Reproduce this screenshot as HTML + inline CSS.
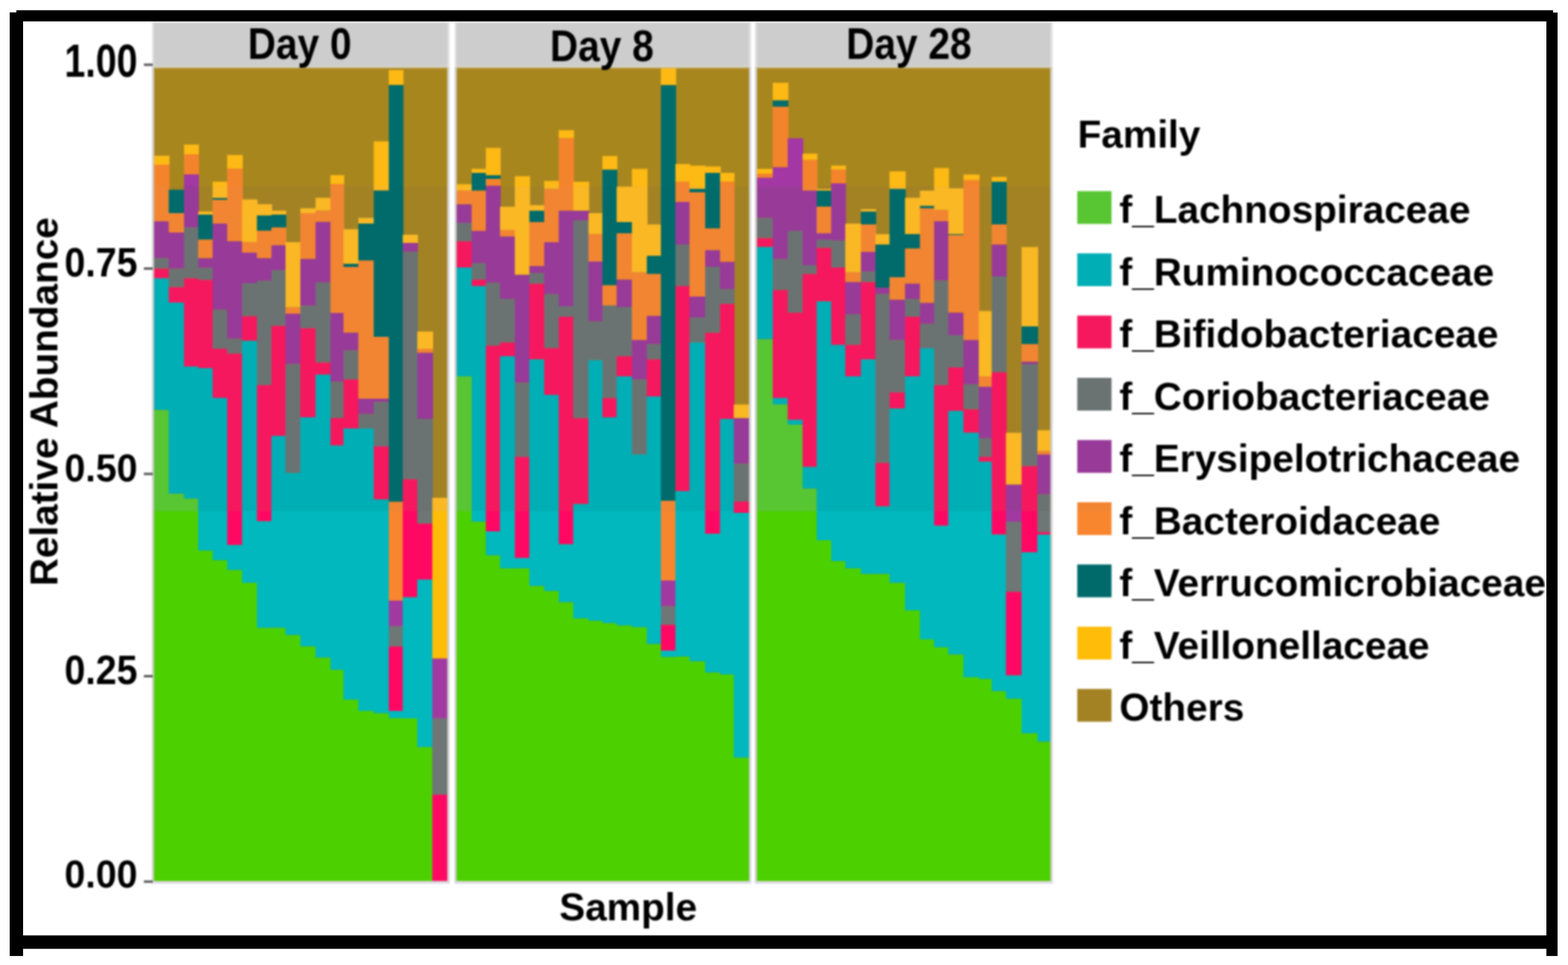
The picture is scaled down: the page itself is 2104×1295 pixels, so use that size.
<!DOCTYPE html>
<html><head><meta charset="utf-8"><title>Relative Abundance by Family</title>
<style>html,body{margin:0;padding:0;background:#fff;width:2104px;height:1295px;overflow:hidden}svg{display:block}</style>
</head><body>
<svg width="2104" height="1295" viewBox="0 0 2104 1295"><defs><clipPath id="b0"><rect x="0" y="0" width="2104" height="250"/></clipPath><clipPath id="b1"><rect x="0" y="250" width="2104" height="436"/></clipPath><clipPath id="b2"><rect x="0" y="686" width="2104" height="609"/></clipPath></defs><filter id="soft" x="0" y="0" width="2104" height="1295" filterUnits="userSpaceOnUse" color-interpolation-filters="sRGB"><feGaussianBlur stdDeviation="1.0"/></filter><rect width="2104" height="1295" fill="#fff"/><g filter="url(#soft)"><rect width="2104" height="1295" fill="#fff"/><rect x="204.0" y="29" width="399.3" height="60" fill="#e2e2e2"/><rect x="206.5" y="31" width="393.9" height="57.6" fill="#cdcdcd"/><rect x="610.0" y="29" width="397.9" height="60" fill="#e2e2e2"/><rect x="612.5" y="31" width="392.5" height="57.6" fill="#cdcdcd"/><rect x="1013.0" y="29" width="399.5" height="60" fill="#e2e2e2"/><rect x="1015.5" y="31" width="394.1" height="57.6" fill="#cdcdcd"/><g clip-path="url(#b0)"><rect x="206.5" y="89.5" width="393.9" height="1093.0" fill="#a8861e"/><rect x="206.50" y="209.00" width="20.90" height="12.00" fill="#fdb914"/><rect x="206.50" y="221.00" width="20.90" height="76.00" fill="#f4842c"/><rect x="206.50" y="297.00" width="20.90" height="49.50" fill="#a337a3"/><rect x="206.50" y="346.50" width="20.90" height="14.00" fill="#6b7372"/><rect x="206.50" y="360.50" width="20.90" height="13.00" fill="#f8155f"/><rect x="206.50" y="373.50" width="20.90" height="176.80" fill="#00aeb6"/><rect x="206.50" y="550.30" width="20.90" height="632.20" fill="#58c532"/><rect x="226.40" y="254.60" width="21.50" height="31.40" fill="#006d6c"/><rect x="226.40" y="286.00" width="21.50" height="26.00" fill="#f4842c"/><rect x="226.40" y="312.00" width="21.50" height="48.50" fill="#a337a3"/><rect x="226.40" y="360.50" width="21.50" height="24.90" fill="#6b7372"/><rect x="226.40" y="385.40" width="21.50" height="20.60" fill="#f8155f"/><rect x="226.40" y="406.00" width="21.50" height="256.70" fill="#00aeb6"/><rect x="226.40" y="662.70" width="21.50" height="519.80" fill="#58c532"/><rect x="246.90" y="194.00" width="20.00" height="13.00" fill="#fdb914"/><rect x="246.90" y="207.00" width="20.00" height="27.00" fill="#f4842c"/><rect x="246.90" y="234.00" width="20.00" height="71.40" fill="#a337a3"/><rect x="246.90" y="305.40" width="20.00" height="68.10" fill="#6b7372"/><rect x="246.90" y="373.50" width="20.00" height="118.40" fill="#f8155f"/><rect x="246.90" y="491.90" width="20.00" height="177.30" fill="#00aeb6"/><rect x="246.90" y="669.20" width="20.00" height="513.30" fill="#58c532"/><rect x="265.90" y="283.80" width="20.40" height="4.20" fill="#fdb914"/><rect x="265.90" y="288.00" width="20.40" height="33.60" fill="#006d6c"/><rect x="265.90" y="321.60" width="20.40" height="24.90" fill="#f4842c"/><rect x="265.90" y="346.50" width="20.40" height="13.00" fill="#a337a3"/><rect x="265.90" y="359.50" width="20.40" height="16.20" fill="#6b7372"/><rect x="265.90" y="375.70" width="20.40" height="118.30" fill="#f8155f"/><rect x="265.90" y="494.00" width="20.40" height="244.90" fill="#00aeb6"/><rect x="265.90" y="738.90" width="20.40" height="443.60" fill="#58c532"/><rect x="285.30" y="243.80" width="20.50" height="22.00" fill="#fdb914"/><rect x="285.30" y="265.80" width="20.50" height="2.40" fill="#006d6c"/><rect x="285.30" y="268.20" width="20.50" height="31.80" fill="#f4842c"/><rect x="285.30" y="300.00" width="20.50" height="115.70" fill="#a337a3"/><rect x="285.30" y="415.70" width="20.50" height="52.30" fill="#6b7372"/><rect x="285.30" y="468.00" width="20.50" height="66.00" fill="#f8155f"/><rect x="285.30" y="534.00" width="20.50" height="217.90" fill="#00aeb6"/><rect x="285.30" y="751.90" width="20.50" height="430.60" fill="#58c532"/><rect x="304.80" y="208.00" width="21.00" height="18.50" fill="#fdb914"/><rect x="304.80" y="226.50" width="21.00" height="97.30" fill="#f4842c"/><rect x="304.80" y="323.80" width="21.00" height="130.80" fill="#a337a3"/><rect x="304.80" y="454.60" width="21.00" height="20.00" fill="#6b7372"/><rect x="304.80" y="474.60" width="21.00" height="256.80" fill="#f8155f"/><rect x="304.80" y="731.40" width="21.00" height="33.50" fill="#00aeb6"/><rect x="304.80" y="764.90" width="21.00" height="417.60" fill="#58c532"/><rect x="324.80" y="267.60" width="20.90" height="57.30" fill="#fdb914"/><rect x="324.80" y="324.90" width="20.90" height="14.10" fill="#f4842c"/><rect x="324.80" y="339.00" width="20.90" height="41.00" fill="#a337a3"/><rect x="324.80" y="380.00" width="20.90" height="44.30" fill="#6b7372"/><rect x="324.80" y="424.30" width="20.90" height="33.00" fill="#f8155f"/><rect x="324.80" y="457.30" width="20.90" height="324.90" fill="#00aeb6"/><rect x="324.80" y="782.20" width="20.90" height="400.30" fill="#58c532"/><rect x="344.70" y="274.00" width="20.50" height="15.20" fill="#fdb914"/><rect x="344.70" y="289.20" width="20.50" height="20.50" fill="#006d6c"/><rect x="344.70" y="309.70" width="20.50" height="36.80" fill="#f4842c"/><rect x="344.70" y="346.50" width="20.50" height="30.30" fill="#a337a3"/><rect x="344.70" y="376.80" width="20.50" height="140.00" fill="#6b7372"/><rect x="344.70" y="516.80" width="20.50" height="182.70" fill="#f8155f"/><rect x="344.70" y="699.50" width="20.50" height="143.20" fill="#00aeb6"/><rect x="344.70" y="842.70" width="20.50" height="339.80" fill="#58c532"/><rect x="364.20" y="282.70" width="19.90" height="5.30" fill="#fdb914"/><rect x="364.20" y="288.00" width="19.90" height="17.40" fill="#006d6c"/><rect x="364.20" y="305.40" width="19.90" height="23.80" fill="#f4842c"/><rect x="364.20" y="329.20" width="19.90" height="33.50" fill="#a337a3"/><rect x="364.20" y="362.70" width="19.90" height="74.60" fill="#6b7372"/><rect x="364.20" y="437.30" width="19.90" height="147.60" fill="#f8155f"/><rect x="364.20" y="584.90" width="19.90" height="257.80" fill="#00aeb6"/><rect x="364.20" y="842.70" width="19.90" height="339.80" fill="#58c532"/><rect x="383.10" y="324.90" width="20.90" height="87.50" fill="#fdb914"/><rect x="383.10" y="412.40" width="20.90" height="8.60" fill="#f4842c"/><rect x="383.10" y="421.00" width="20.90" height="67.60" fill="#a337a3"/><rect x="383.10" y="488.60" width="20.90" height="146.00" fill="#6b7372"/><rect x="383.10" y="634.60" width="20.90" height="217.80" fill="#00aeb6"/><rect x="383.10" y="852.40" width="20.90" height="330.10" fill="#58c532"/><rect x="403.00" y="279.50" width="21.40" height="6.50" fill="#fdb914"/><rect x="403.00" y="286.00" width="21.40" height="61.60" fill="#f4842c"/><rect x="403.00" y="347.60" width="21.40" height="62.70" fill="#a337a3"/><rect x="403.00" y="410.30" width="21.40" height="30.20" fill="#6b7372"/><rect x="403.00" y="440.50" width="21.40" height="119.50" fill="#f8155f"/><rect x="403.00" y="560.00" width="21.40" height="307.60" fill="#00aeb6"/><rect x="403.00" y="867.60" width="21.40" height="314.90" fill="#58c532"/><rect x="423.40" y="265.40" width="21.00" height="17.30" fill="#fdb914"/><rect x="423.40" y="282.70" width="21.00" height="15.10" fill="#f4842c"/><rect x="423.40" y="297.80" width="21.00" height="81.10" fill="#a337a3"/><rect x="423.40" y="378.90" width="21.00" height="107.60" fill="#6b7372"/><rect x="423.40" y="486.50" width="21.00" height="16.20" fill="#f8155f"/><rect x="423.40" y="502.70" width="21.00" height="380.00" fill="#00aeb6"/><rect x="423.40" y="882.70" width="21.00" height="299.80" fill="#58c532"/><rect x="443.40" y="235.00" width="18.50" height="12.00" fill="#fdb914"/><rect x="443.40" y="247.00" width="18.50" height="173.00" fill="#f4842c"/><rect x="443.40" y="420.00" width="18.50" height="92.40" fill="#a337a3"/><rect x="443.40" y="512.40" width="18.50" height="48.60" fill="#6b7372"/><rect x="443.40" y="561.00" width="18.50" height="36.80" fill="#f8155f"/><rect x="443.40" y="597.80" width="18.50" height="301.10" fill="#00aeb6"/><rect x="443.40" y="898.90" width="18.50" height="283.60" fill="#58c532"/><rect x="460.90" y="307.60" width="20.90" height="46.40" fill="#fdb914"/><rect x="460.90" y="354.00" width="20.90" height="4.40" fill="#006d6c"/><rect x="460.90" y="358.40" width="20.90" height="88.10" fill="#f4842c"/><rect x="460.90" y="446.50" width="20.90" height="23.80" fill="#a337a3"/><rect x="460.90" y="470.30" width="20.90" height="38.90" fill="#6b7372"/><rect x="460.90" y="509.20" width="20.90" height="65.80" fill="#f8155f"/><rect x="460.90" y="575.00" width="20.90" height="363.90" fill="#00aeb6"/><rect x="460.90" y="938.90" width="20.90" height="243.60" fill="#58c532"/><rect x="480.80" y="292.40" width="21.70" height="7.60" fill="#fdb914"/><rect x="480.80" y="300.00" width="21.70" height="49.70" fill="#006d6c"/><rect x="480.80" y="349.70" width="21.70" height="185.30" fill="#f4842c"/><rect x="480.80" y="535.00" width="21.70" height="20.70" fill="#a337a3"/><rect x="480.80" y="555.70" width="21.70" height="19.30" fill="#6b7372"/><rect x="480.80" y="575.00" width="21.70" height="379.00" fill="#00aeb6"/><rect x="480.80" y="954.00" width="21.70" height="228.50" fill="#58c532"/><rect x="501.50" y="189.70" width="21.20" height="66.00" fill="#fdb914"/><rect x="501.50" y="255.70" width="21.20" height="196.30" fill="#006d6c"/><rect x="501.50" y="452.00" width="21.20" height="83.00" fill="#f4842c"/><rect x="501.50" y="535.00" width="21.20" height="4.50" fill="#a337a3"/><rect x="501.50" y="539.50" width="21.20" height="59.50" fill="#6b7372"/><rect x="501.50" y="599.00" width="21.20" height="71.30" fill="#f8155f"/><rect x="501.50" y="670.30" width="21.20" height="287.00" fill="#00aeb6"/><rect x="501.50" y="957.30" width="21.20" height="225.20" fill="#58c532"/><rect x="521.70" y="94.00" width="19.70" height="20.00" fill="#fdb914"/><rect x="521.70" y="114.00" width="19.70" height="559.50" fill="#006d6c"/><rect x="521.70" y="673.50" width="19.70" height="132.50" fill="#f4842c"/><rect x="521.70" y="806.00" width="19.70" height="34.50" fill="#a337a3"/><rect x="521.70" y="840.50" width="19.70" height="27.10" fill="#6b7372"/><rect x="521.70" y="867.60" width="19.70" height="86.40" fill="#f8155f"/><rect x="521.70" y="954.00" width="19.70" height="9.80" fill="#00aeb6"/><rect x="521.70" y="963.80" width="19.70" height="218.70" fill="#58c532"/><rect x="540.40" y="315.00" width="20.50" height="11.00" fill="#fdb914"/><rect x="540.40" y="326.00" width="20.50" height="11.80" fill="#a337a3"/><rect x="540.40" y="337.80" width="20.50" height="305.40" fill="#6b7372"/><rect x="540.40" y="643.20" width="20.50" height="158.40" fill="#f8155f"/><rect x="540.40" y="801.60" width="20.50" height="162.40" fill="#00aeb6"/><rect x="540.40" y="964.00" width="20.50" height="218.50" fill="#58c532"/><rect x="559.90" y="444.90" width="21.20" height="23.10" fill="#fdb914"/><rect x="559.90" y="468.00" width="21.20" height="5.50" fill="#f4842c"/><rect x="559.90" y="473.50" width="21.20" height="88.50" fill="#a337a3"/><rect x="559.90" y="562.00" width="21.20" height="140.70" fill="#6b7372"/><rect x="559.90" y="702.70" width="21.20" height="75.10" fill="#f8155f"/><rect x="559.90" y="777.80" width="21.20" height="224.90" fill="#00aeb6"/><rect x="559.90" y="1002.70" width="21.20" height="179.80" fill="#58c532"/><rect x="580.10" y="668.00" width="20.30" height="215.80" fill="#fdb914"/><rect x="580.10" y="883.80" width="20.30" height="80.30" fill="#a337a3"/><rect x="580.10" y="964.10" width="20.30" height="102.30" fill="#6b7372"/><rect x="580.10" y="1066.40" width="20.30" height="116.10" fill="#f8155f"/><rect x="612.5" y="89.5" width="392.5" height="1093.0" fill="#a8861e"/><rect x="612.50" y="247.20" width="21.40" height="8.60" fill="#fdb914"/><rect x="612.50" y="255.80" width="21.40" height="18.40" fill="#f4842c"/><rect x="612.50" y="274.20" width="21.40" height="24.80" fill="#a337a3"/><rect x="612.50" y="299.00" width="21.40" height="24.90" fill="#6b7372"/><rect x="612.50" y="323.90" width="21.40" height="35.10" fill="#f8155f"/><rect x="612.50" y="359.00" width="21.40" height="146.00" fill="#00aeb6"/><rect x="612.50" y="505.00" width="21.40" height="677.50" fill="#58c532"/><rect x="632.90" y="226.60" width="20.00" height="5.40" fill="#fdb914"/><rect x="632.90" y="232.00" width="20.00" height="23.80" fill="#006d6c"/><rect x="632.90" y="255.80" width="20.00" height="54.10" fill="#f4842c"/><rect x="632.90" y="309.90" width="20.00" height="43.20" fill="#a337a3"/><rect x="632.90" y="353.10" width="20.00" height="22.20" fill="#6b7372"/><rect x="632.90" y="375.30" width="20.00" height="8.60" fill="#f8155f"/><rect x="632.90" y="383.90" width="20.00" height="316.20" fill="#00aeb6"/><rect x="632.90" y="700.10" width="20.00" height="482.40" fill="#58c532"/><rect x="651.90" y="198.50" width="20.00" height="36.80" fill="#fdb914"/><rect x="651.90" y="235.30" width="20.00" height="4.70" fill="#006d6c"/><rect x="651.90" y="240.00" width="20.00" height="9.30" fill="#f4842c"/><rect x="651.90" y="249.30" width="20.00" height="130.30" fill="#a337a3"/><rect x="651.90" y="379.60" width="20.00" height="84.30" fill="#6b7372"/><rect x="651.90" y="463.90" width="20.00" height="249.20" fill="#f8155f"/><rect x="651.90" y="713.10" width="20.00" height="32.40" fill="#00aeb6"/><rect x="651.90" y="745.50" width="20.00" height="437.00" fill="#58c532"/><rect x="670.90" y="277.40" width="20.90" height="31.40" fill="#fdb914"/><rect x="670.90" y="308.80" width="20.90" height="8.60" fill="#f4842c"/><rect x="670.90" y="317.40" width="20.90" height="83.80" fill="#a337a3"/><rect x="670.90" y="401.20" width="20.90" height="58.40" fill="#6b7372"/><rect x="670.90" y="459.60" width="20.90" height="18.40" fill="#f8155f"/><rect x="670.90" y="478.00" width="20.90" height="284.80" fill="#00aeb6"/><rect x="670.90" y="762.80" width="20.90" height="419.70" fill="#58c532"/><rect x="690.80" y="236.40" width="20.50" height="132.40" fill="#fdb914"/><rect x="690.80" y="368.80" width="20.50" height="144.80" fill="#a337a3"/><rect x="690.80" y="513.60" width="20.50" height="99.50" fill="#6b7372"/><rect x="690.80" y="613.10" width="20.50" height="135.70" fill="#f8155f"/><rect x="690.80" y="748.80" width="20.50" height="14.00" fill="#00aeb6"/><rect x="690.80" y="762.80" width="20.50" height="419.70" fill="#58c532"/><rect x="710.30" y="275.30" width="20.90" height="7.50" fill="#fdb914"/><rect x="710.30" y="282.80" width="20.90" height="15.20" fill="#006d6c"/><rect x="710.30" y="298.00" width="20.90" height="59.00" fill="#f4842c"/><rect x="710.30" y="357.00" width="20.90" height="9.60" fill="#a337a3"/><rect x="710.30" y="366.60" width="20.90" height="14.10" fill="#6b7372"/><rect x="710.30" y="380.70" width="20.90" height="101.60" fill="#f8155f"/><rect x="710.30" y="482.30" width="20.90" height="304.30" fill="#00aeb6"/><rect x="710.30" y="786.60" width="20.90" height="395.90" fill="#58c532"/><rect x="730.20" y="242.80" width="20.50" height="10.80" fill="#fdb914"/><rect x="730.20" y="253.60" width="20.50" height="71.40" fill="#f4842c"/><rect x="730.20" y="325.00" width="20.50" height="69.70" fill="#a337a3"/><rect x="730.20" y="394.70" width="20.50" height="72.50" fill="#6b7372"/><rect x="730.20" y="467.20" width="20.50" height="62.70" fill="#f8155f"/><rect x="730.20" y="529.90" width="20.50" height="263.20" fill="#00aeb6"/><rect x="730.20" y="793.10" width="20.50" height="389.40" fill="#58c532"/><rect x="749.70" y="174.70" width="20.50" height="10.80" fill="#fdb914"/><rect x="749.70" y="185.50" width="20.50" height="97.30" fill="#f4842c"/><rect x="749.70" y="282.80" width="20.50" height="128.20" fill="#a337a3"/><rect x="749.70" y="411.00" width="20.50" height="14.00" fill="#6b7372"/><rect x="749.70" y="425.00" width="20.50" height="305.40" fill="#f8155f"/><rect x="749.70" y="730.40" width="20.50" height="77.80" fill="#00aeb6"/><rect x="749.70" y="808.20" width="20.50" height="374.30" fill="#58c532"/><rect x="769.20" y="243.90" width="21.40" height="38.90" fill="#fdb914"/><rect x="769.20" y="282.80" width="21.40" height="13.00" fill="#a337a3"/><rect x="769.20" y="295.80" width="21.40" height="265.40" fill="#6b7372"/><rect x="769.20" y="561.20" width="21.40" height="115.20" fill="#f8155f"/><rect x="769.20" y="676.40" width="21.40" height="153.50" fill="#00aeb6"/><rect x="769.20" y="829.90" width="21.40" height="352.60" fill="#58c532"/><rect x="789.60" y="286.00" width="19.70" height="28.20" fill="#fdb914"/><rect x="789.60" y="314.20" width="19.70" height="36.80" fill="#f4842c"/><rect x="789.60" y="351.00" width="19.70" height="80.50" fill="#a337a3"/><rect x="789.60" y="431.50" width="19.70" height="51.90" fill="#6b7372"/><rect x="789.60" y="483.40" width="19.70" height="349.70" fill="#00aeb6"/><rect x="789.60" y="833.10" width="19.70" height="349.40" fill="#58c532"/><rect x="808.30" y="209.30" width="20.10" height="18.40" fill="#fdb914"/><rect x="808.30" y="227.70" width="20.10" height="155.10" fill="#006d6c"/><rect x="808.30" y="382.80" width="20.10" height="27.10" fill="#f4842c"/><rect x="808.30" y="409.90" width="20.10" height="124.30" fill="#6b7372"/><rect x="808.30" y="534.20" width="20.10" height="25.90" fill="#f8155f"/><rect x="808.30" y="560.10" width="20.10" height="276.30" fill="#00aeb6"/><rect x="808.30" y="836.40" width="20.10" height="346.10" fill="#58c532"/><rect x="827.40" y="250.40" width="21.50" height="47.60" fill="#fdb914"/><rect x="827.40" y="298.00" width="21.50" height="15.10" fill="#006d6c"/><rect x="827.40" y="313.10" width="21.50" height="62.20" fill="#f4842c"/><rect x="827.40" y="375.30" width="21.50" height="36.70" fill="#a337a3"/><rect x="827.40" y="412.00" width="21.50" height="66.00" fill="#6b7372"/><rect x="827.40" y="478.00" width="21.50" height="27.00" fill="#f8155f"/><rect x="827.40" y="505.00" width="21.50" height="334.60" fill="#00aeb6"/><rect x="827.40" y="839.60" width="21.50" height="342.90" fill="#58c532"/><rect x="847.90" y="226.60" width="21.00" height="138.90" fill="#fdb914"/><rect x="847.90" y="365.50" width="21.00" height="90.90" fill="#f4842c"/><rect x="847.90" y="456.40" width="21.00" height="52.90" fill="#a337a3"/><rect x="847.90" y="509.30" width="21.00" height="100.60" fill="#6b7372"/><rect x="847.90" y="609.90" width="21.00" height="231.90" fill="#00aeb6"/><rect x="847.90" y="841.80" width="21.00" height="340.70" fill="#58c532"/><rect x="867.90" y="301.20" width="19.90" height="42.20" fill="#fdb914"/><rect x="867.90" y="343.40" width="19.90" height="24.30" fill="#006d6c"/><rect x="867.90" y="367.70" width="19.90" height="56.20" fill="#f4842c"/><rect x="867.90" y="423.90" width="19.90" height="37.90" fill="#a337a3"/><rect x="867.90" y="461.80" width="19.90" height="20.50" fill="#6b7372"/><rect x="867.90" y="482.30" width="19.90" height="49.70" fill="#f8155f"/><rect x="867.90" y="532.00" width="19.90" height="332.50" fill="#00aeb6"/><rect x="867.90" y="864.50" width="19.90" height="318.00" fill="#58c532"/><rect x="886.80" y="91.50" width="20.50" height="22.70" fill="#fdb914"/><rect x="886.80" y="114.20" width="20.50" height="557.80" fill="#006d6c"/><rect x="886.80" y="672.00" width="20.50" height="107.00" fill="#f4842c"/><rect x="886.80" y="779.00" width="20.50" height="34.60" fill="#a337a3"/><rect x="886.80" y="813.60" width="20.50" height="24.90" fill="#6b7372"/><rect x="886.80" y="838.50" width="20.50" height="34.60" fill="#f8155f"/><rect x="886.80" y="873.10" width="20.50" height="8.70" fill="#00aeb6"/><rect x="886.80" y="881.80" width="20.50" height="300.70" fill="#58c532"/><rect x="906.30" y="220.10" width="19.90" height="23.80" fill="#fdb914"/><rect x="906.30" y="243.90" width="19.90" height="27.10" fill="#f4842c"/><rect x="906.30" y="271.00" width="19.90" height="57.20" fill="#a337a3"/><rect x="906.30" y="328.20" width="19.90" height="55.70" fill="#6b7372"/><rect x="906.30" y="383.90" width="19.90" height="275.10" fill="#f8155f"/><rect x="906.30" y="659.00" width="19.90" height="222.30" fill="#00aeb6"/><rect x="906.30" y="881.30" width="19.90" height="301.20" fill="#58c532"/><rect x="925.20" y="222.30" width="22.00" height="31.30" fill="#fdb914"/><rect x="925.20" y="253.60" width="22.00" height="4.40" fill="#006d6c"/><rect x="925.20" y="258.00" width="22.00" height="140.00" fill="#f4842c"/><rect x="925.20" y="398.00" width="22.00" height="28.00" fill="#a337a3"/><rect x="925.20" y="426.00" width="22.00" height="33.60" fill="#6b7372"/><rect x="925.20" y="459.60" width="22.00" height="428.00" fill="#00aeb6"/><rect x="925.20" y="887.60" width="22.00" height="294.90" fill="#58c532"/><rect x="946.20" y="223.40" width="21.00" height="8.60" fill="#fdb914"/><rect x="946.20" y="232.00" width="21.00" height="74.60" fill="#006d6c"/><rect x="946.20" y="306.60" width="21.00" height="29.20" fill="#f4842c"/><rect x="946.20" y="335.80" width="21.00" height="22.20" fill="#a337a3"/><rect x="946.20" y="358.00" width="21.00" height="88.60" fill="#6b7372"/><rect x="946.20" y="446.60" width="21.00" height="269.80" fill="#f8155f"/><rect x="946.20" y="716.40" width="21.00" height="186.20" fill="#00aeb6"/><rect x="946.20" y="902.60" width="21.00" height="279.90" fill="#58c532"/><rect x="966.20" y="232.00" width="19.40" height="11.90" fill="#fdb914"/><rect x="966.20" y="243.90" width="19.40" height="107.60" fill="#f4842c"/><rect x="966.20" y="351.50" width="19.40" height="36.70" fill="#a337a3"/><rect x="966.20" y="388.20" width="19.40" height="19.50" fill="#6b7372"/><rect x="966.20" y="407.70" width="19.40" height="154.60" fill="#f8155f"/><rect x="966.20" y="562.30" width="19.40" height="342.80" fill="#00aeb6"/><rect x="966.20" y="905.10" width="19.40" height="277.40" fill="#58c532"/><rect x="984.60" y="542.80" width="20.40" height="18.40" fill="#fdb914"/><rect x="984.60" y="561.20" width="20.40" height="61.10" fill="#a337a3"/><rect x="984.60" y="622.30" width="20.40" height="50.80" fill="#6b7372"/><rect x="984.60" y="673.10" width="20.40" height="15.10" fill="#f8155f"/><rect x="984.60" y="688.20" width="20.40" height="328.60" fill="#00aeb6"/><rect x="984.60" y="1016.80" width="20.40" height="165.70" fill="#58c532"/><rect x="1015.5" y="89.5" width="394.0999999999999" height="1093.0" fill="#a8861e"/><rect x="1015.50" y="226.60" width="22.40" height="6.50" fill="#fdb914"/><rect x="1015.50" y="233.10" width="22.40" height="5.40" fill="#f4842c"/><rect x="1015.50" y="238.50" width="22.40" height="54.10" fill="#a337a3"/><rect x="1015.50" y="292.60" width="22.40" height="27.00" fill="#6b7372"/><rect x="1015.50" y="319.60" width="22.40" height="11.90" fill="#f8155f"/><rect x="1015.50" y="331.50" width="22.40" height="123.80" fill="#00aeb6"/><rect x="1015.50" y="455.30" width="22.40" height="727.20" fill="#58c532"/><rect x="1036.90" y="111.00" width="21.00" height="23.70" fill="#fdb914"/><rect x="1036.90" y="134.70" width="21.00" height="8.70" fill="#006d6c"/><rect x="1036.90" y="143.40" width="21.00" height="81.10" fill="#f4842c"/><rect x="1036.90" y="224.50" width="21.00" height="123.20" fill="#a337a3"/><rect x="1036.90" y="347.70" width="21.00" height="41.60" fill="#6b7372"/><rect x="1036.90" y="389.30" width="21.00" height="144.90" fill="#f8155f"/><rect x="1036.90" y="534.20" width="21.00" height="8.60" fill="#00aeb6"/><rect x="1036.90" y="542.80" width="21.00" height="639.70" fill="#58c532"/><rect x="1056.90" y="185.50" width="21.00" height="124.40" fill="#a337a3"/><rect x="1056.90" y="309.90" width="21.00" height="109.70" fill="#6b7372"/><rect x="1056.90" y="419.60" width="21.00" height="143.80" fill="#f8155f"/><rect x="1056.90" y="563.40" width="21.00" height="6.50" fill="#00aeb6"/><rect x="1056.90" y="569.90" width="21.00" height="612.60" fill="#58c532"/><rect x="1076.90" y="206.10" width="19.90" height="8.60" fill="#fdb914"/><rect x="1076.90" y="214.70" width="19.90" height="41.10" fill="#f4842c"/><rect x="1076.90" y="255.80" width="19.90" height="100.20" fill="#a337a3"/><rect x="1076.90" y="356.00" width="19.90" height="11.70" fill="#6b7372"/><rect x="1076.90" y="367.70" width="19.90" height="258.90" fill="#f8155f"/><rect x="1076.90" y="626.60" width="19.90" height="29.20" fill="#00aeb6"/><rect x="1076.90" y="655.80" width="19.90" height="526.70" fill="#58c532"/><rect x="1095.80" y="253.60" width="20.50" height="2.20" fill="#fdb914"/><rect x="1095.80" y="255.80" width="20.50" height="21.60" fill="#006d6c"/><rect x="1095.80" y="277.40" width="20.50" height="35.70" fill="#f4842c"/><rect x="1095.80" y="313.10" width="20.50" height="8.70" fill="#a337a3"/><rect x="1095.80" y="321.80" width="20.50" height="10.80" fill="#6b7372"/><rect x="1095.80" y="332.60" width="20.50" height="71.90" fill="#f8155f"/><rect x="1095.80" y="404.50" width="20.50" height="320.50" fill="#00aeb6"/><rect x="1095.80" y="725.00" width="20.50" height="457.50" fill="#58c532"/><rect x="1115.30" y="222.30" width="19.90" height="5.40" fill="#fdb914"/><rect x="1115.30" y="227.70" width="19.90" height="18.40" fill="#f4842c"/><rect x="1115.30" y="246.10" width="19.90" height="76.70" fill="#a337a3"/><rect x="1115.30" y="322.80" width="19.90" height="36.20" fill="#6b7372"/><rect x="1115.30" y="359.00" width="19.90" height="103.80" fill="#f8155f"/><rect x="1115.30" y="462.80" width="19.90" height="290.30" fill="#00aeb6"/><rect x="1115.30" y="753.10" width="19.90" height="429.40" fill="#58c532"/><rect x="1134.20" y="300.10" width="22.00" height="65.40" fill="#fdb914"/><rect x="1134.20" y="365.50" width="22.00" height="13.00" fill="#f4842c"/><rect x="1134.20" y="378.50" width="22.00" height="43.30" fill="#a337a3"/><rect x="1134.20" y="421.80" width="22.00" height="41.00" fill="#6b7372"/><rect x="1134.20" y="462.80" width="22.00" height="42.20" fill="#f8155f"/><rect x="1134.20" y="505.00" width="22.00" height="257.80" fill="#00aeb6"/><rect x="1134.20" y="762.80" width="22.00" height="419.70" fill="#58c532"/><rect x="1155.20" y="280.70" width="20.50" height="3.20" fill="#fdb914"/><rect x="1155.20" y="283.90" width="20.50" height="17.30" fill="#006d6c"/><rect x="1155.20" y="301.20" width="20.50" height="36.80" fill="#f4842c"/><rect x="1155.20" y="338.00" width="20.50" height="26.50" fill="#a337a3"/><rect x="1155.20" y="364.50" width="20.50" height="14.00" fill="#6b7372"/><rect x="1155.20" y="378.50" width="20.50" height="103.80" fill="#f8155f"/><rect x="1155.20" y="482.30" width="20.50" height="288.10" fill="#00aeb6"/><rect x="1155.20" y="770.40" width="20.50" height="412.10" fill="#58c532"/><rect x="1174.70" y="314.20" width="19.90" height="14.00" fill="#fdb914"/><rect x="1174.70" y="328.20" width="19.90" height="57.90" fill="#006d6c"/><rect x="1174.70" y="386.10" width="19.90" height="8.60" fill="#a337a3"/><rect x="1174.70" y="394.70" width="19.90" height="226.50" fill="#6b7372"/><rect x="1174.70" y="621.20" width="19.90" height="58.40" fill="#f8155f"/><rect x="1174.70" y="679.60" width="19.90" height="90.80" fill="#00aeb6"/><rect x="1174.70" y="770.40" width="19.90" height="412.10" fill="#58c532"/><rect x="1193.60" y="229.90" width="21.70" height="23.70" fill="#fdb914"/><rect x="1193.60" y="253.60" width="21.70" height="118.40" fill="#006d6c"/><rect x="1193.60" y="372.00" width="21.70" height="30.30" fill="#f4842c"/><rect x="1193.60" y="402.30" width="21.70" height="54.10" fill="#a337a3"/><rect x="1193.60" y="456.40" width="21.70" height="70.20" fill="#6b7372"/><rect x="1193.60" y="526.60" width="21.70" height="21.60" fill="#f8155f"/><rect x="1193.60" y="548.20" width="21.70" height="234.10" fill="#00aeb6"/><rect x="1193.60" y="782.30" width="21.70" height="400.20" fill="#58c532"/><rect x="1214.30" y="265.50" width="21.10" height="48.70" fill="#fdb914"/><rect x="1214.30" y="314.20" width="21.10" height="19.40" fill="#006d6c"/><rect x="1214.30" y="333.60" width="21.10" height="47.10" fill="#f4842c"/><rect x="1214.30" y="380.70" width="21.10" height="20.50" fill="#a337a3"/><rect x="1214.30" y="401.20" width="21.10" height="23.80" fill="#6b7372"/><rect x="1214.30" y="425.00" width="21.10" height="80.00" fill="#f8155f"/><rect x="1214.30" y="505.00" width="21.10" height="314.00" fill="#00aeb6"/><rect x="1214.30" y="819.00" width="21.10" height="363.50" fill="#58c532"/><rect x="1234.40" y="255.80" width="20.00" height="20.60" fill="#fdb914"/><rect x="1234.40" y="276.40" width="20.00" height="3.20" fill="#006d6c"/><rect x="1234.40" y="279.60" width="20.00" height="127.00" fill="#f4842c"/><rect x="1234.40" y="406.60" width="20.00" height="28.10" fill="#a337a3"/><rect x="1234.40" y="434.70" width="20.00" height="32.50" fill="#6b7372"/><rect x="1234.40" y="467.20" width="20.00" height="390.80" fill="#00aeb6"/><rect x="1234.40" y="858.00" width="20.00" height="324.50" fill="#58c532"/><rect x="1253.40" y="225.50" width="20.00" height="56.30" fill="#fdb914"/><rect x="1253.40" y="281.80" width="20.00" height="15.10" fill="#f4842c"/><rect x="1253.40" y="296.90" width="20.00" height="79.50" fill="#a337a3"/><rect x="1253.40" y="376.40" width="20.00" height="140.50" fill="#6b7372"/><rect x="1253.40" y="516.90" width="20.00" height="188.60" fill="#f8155f"/><rect x="1253.40" y="705.50" width="20.00" height="163.30" fill="#00aeb6"/><rect x="1253.40" y="868.80" width="20.00" height="313.70" fill="#58c532"/><rect x="1272.40" y="252.60" width="21.40" height="61.60" fill="#fdb914"/><rect x="1272.40" y="314.20" width="21.40" height="1.30" fill="#006d6c"/><rect x="1272.40" y="315.50" width="21.40" height="104.10" fill="#f4842c"/><rect x="1272.40" y="419.60" width="21.40" height="30.30" fill="#a337a3"/><rect x="1272.40" y="449.90" width="21.40" height="43.20" fill="#6b7372"/><rect x="1272.40" y="493.10" width="21.40" height="58.40" fill="#f8155f"/><rect x="1272.40" y="551.50" width="21.40" height="327.00" fill="#00aeb6"/><rect x="1272.40" y="878.50" width="21.40" height="304.00" fill="#58c532"/><rect x="1292.80" y="234.20" width="21.50" height="7.60" fill="#fdb914"/><rect x="1292.80" y="241.80" width="21.50" height="214.60" fill="#f4842c"/><rect x="1292.80" y="456.40" width="21.50" height="59.40" fill="#a337a3"/><rect x="1292.80" y="515.80" width="21.50" height="33.50" fill="#6b7372"/><rect x="1292.80" y="549.30" width="21.50" height="31.40" fill="#f8155f"/><rect x="1292.80" y="580.70" width="21.50" height="328.20" fill="#00aeb6"/><rect x="1292.80" y="908.90" width="21.50" height="273.60" fill="#58c532"/><rect x="1313.30" y="417.40" width="18.40" height="87.60" fill="#fdb914"/><rect x="1313.30" y="505.00" width="18.40" height="14.00" fill="#f4842c"/><rect x="1313.30" y="519.00" width="18.40" height="69.20" fill="#a337a3"/><rect x="1313.30" y="588.20" width="18.40" height="24.90" fill="#6b7372"/><rect x="1313.30" y="613.10" width="18.40" height="6.50" fill="#f8155f"/><rect x="1313.30" y="619.60" width="18.40" height="291.80" fill="#00aeb6"/><rect x="1313.30" y="911.40" width="18.40" height="271.10" fill="#58c532"/><rect x="1330.70" y="237.40" width="20.10" height="6.50" fill="#fdb914"/><rect x="1330.70" y="243.90" width="20.10" height="57.30" fill="#006d6c"/><rect x="1330.70" y="301.20" width="20.10" height="27.00" fill="#f4842c"/><rect x="1330.70" y="328.20" width="20.10" height="42.80" fill="#a337a3"/><rect x="1330.70" y="371.00" width="20.10" height="128.60" fill="#6b7372"/><rect x="1330.70" y="499.60" width="20.10" height="217.80" fill="#f8155f"/><rect x="1330.70" y="717.40" width="20.10" height="210.30" fill="#00aeb6"/><rect x="1330.70" y="927.70" width="20.10" height="254.80" fill="#58c532"/><rect x="1349.80" y="580.70" width="22.00" height="69.70" fill="#fdb914"/><rect x="1349.80" y="650.40" width="22.00" height="49.70" fill="#a337a3"/><rect x="1349.80" y="700.10" width="22.00" height="94.10" fill="#6b7372"/><rect x="1349.80" y="794.20" width="22.00" height="112.20" fill="#f8155f"/><rect x="1349.80" y="906.40" width="22.00" height="31.40" fill="#00aeb6"/><rect x="1349.80" y="937.80" width="22.00" height="244.70" fill="#58c532"/><rect x="1370.80" y="331.50" width="22.20" height="106.50" fill="#fdb914"/><rect x="1370.80" y="438.00" width="22.20" height="23.80" fill="#006d6c"/><rect x="1370.80" y="461.80" width="22.20" height="23.70" fill="#f4842c"/><rect x="1370.80" y="485.50" width="22.20" height="3.30" fill="#a337a3"/><rect x="1370.80" y="488.80" width="22.20" height="136.70" fill="#6b7372"/><rect x="1370.80" y="625.50" width="22.20" height="115.70" fill="#f8155f"/><rect x="1370.80" y="741.20" width="22.20" height="243.00" fill="#00aeb6"/><rect x="1370.80" y="984.20" width="22.20" height="198.30" fill="#58c532"/><rect x="1392.00" y="577.40" width="17.60" height="28.10" fill="#fdb914"/><rect x="1392.00" y="605.50" width="17.60" height="4.40" fill="#f4842c"/><rect x="1392.00" y="609.90" width="17.60" height="53.50" fill="#a337a3"/><rect x="1392.00" y="663.40" width="17.60" height="50.80" fill="#6b7372"/><rect x="1392.00" y="714.20" width="17.60" height="3.20" fill="#f8155f"/><rect x="1392.00" y="717.40" width="17.60" height="278.10" fill="#00aeb6"/><rect x="1392.00" y="995.50" width="17.60" height="187.00" fill="#58c532"/><rect x="1445.5" y="256.5" width="46" height="44" fill="#58c532"/><rect x="1445.5" y="340.0" width="46" height="44" fill="#00aeb6"/><rect x="1445.5" y="423.5" width="46" height="44" fill="#f8155f"/><rect x="1445.5" y="507.0" width="46" height="44" fill="#6b7372"/><rect x="1445.5" y="590.5" width="46" height="44" fill="#a337a3"/><rect x="1445.5" y="674.0" width="46" height="44" fill="#f4842c"/><rect x="1445.5" y="757.5" width="46" height="44" fill="#006d6c"/><rect x="1445.5" y="841.0" width="46" height="44" fill="#fdb914"/><rect x="1445.5" y="924.5" width="46" height="44" fill="#a8861e"/></g><g clip-path="url(#b1)"><rect x="206.5" y="89.5" width="393.9" height="1093.0" fill="#a38224"/><rect x="206.50" y="209.00" width="20.90" height="12.00" fill="#f9b824"/><rect x="206.50" y="221.00" width="20.90" height="76.00" fill="#f28532"/><rect x="206.50" y="297.00" width="20.90" height="49.50" fill="#983a98"/><rect x="206.50" y="346.50" width="20.90" height="14.00" fill="#6b7372"/><rect x="206.50" y="360.50" width="20.90" height="13.00" fill="#f5185e"/><rect x="206.50" y="373.50" width="20.90" height="176.80" fill="#00aeb6"/><rect x="206.50" y="550.30" width="20.90" height="632.20" fill="#58c532"/><rect x="226.40" y="254.60" width="21.50" height="31.40" fill="#006b6a"/><rect x="226.40" y="286.00" width="21.50" height="26.00" fill="#f28532"/><rect x="226.40" y="312.00" width="21.50" height="48.50" fill="#983a98"/><rect x="226.40" y="360.50" width="21.50" height="24.90" fill="#6b7372"/><rect x="226.40" y="385.40" width="21.50" height="20.60" fill="#f5185e"/><rect x="226.40" y="406.00" width="21.50" height="256.70" fill="#00aeb6"/><rect x="226.40" y="662.70" width="21.50" height="519.80" fill="#58c532"/><rect x="246.90" y="194.00" width="20.00" height="13.00" fill="#f9b824"/><rect x="246.90" y="207.00" width="20.00" height="27.00" fill="#f28532"/><rect x="246.90" y="234.00" width="20.00" height="71.40" fill="#983a98"/><rect x="246.90" y="305.40" width="20.00" height="68.10" fill="#6b7372"/><rect x="246.90" y="373.50" width="20.00" height="118.40" fill="#f5185e"/><rect x="246.90" y="491.90" width="20.00" height="177.30" fill="#00aeb6"/><rect x="246.90" y="669.20" width="20.00" height="513.30" fill="#58c532"/><rect x="265.90" y="283.80" width="20.40" height="4.20" fill="#f9b824"/><rect x="265.90" y="288.00" width="20.40" height="33.60" fill="#006b6a"/><rect x="265.90" y="321.60" width="20.40" height="24.90" fill="#f28532"/><rect x="265.90" y="346.50" width="20.40" height="13.00" fill="#983a98"/><rect x="265.90" y="359.50" width="20.40" height="16.20" fill="#6b7372"/><rect x="265.90" y="375.70" width="20.40" height="118.30" fill="#f5185e"/><rect x="265.90" y="494.00" width="20.40" height="244.90" fill="#00aeb6"/><rect x="265.90" y="738.90" width="20.40" height="443.60" fill="#58c532"/><rect x="285.30" y="243.80" width="20.50" height="22.00" fill="#f9b824"/><rect x="285.30" y="265.80" width="20.50" height="2.40" fill="#006b6a"/><rect x="285.30" y="268.20" width="20.50" height="31.80" fill="#f28532"/><rect x="285.30" y="300.00" width="20.50" height="115.70" fill="#983a98"/><rect x="285.30" y="415.70" width="20.50" height="52.30" fill="#6b7372"/><rect x="285.30" y="468.00" width="20.50" height="66.00" fill="#f5185e"/><rect x="285.30" y="534.00" width="20.50" height="217.90" fill="#00aeb6"/><rect x="285.30" y="751.90" width="20.50" height="430.60" fill="#58c532"/><rect x="304.80" y="208.00" width="21.00" height="18.50" fill="#f9b824"/><rect x="304.80" y="226.50" width="21.00" height="97.30" fill="#f28532"/><rect x="304.80" y="323.80" width="21.00" height="130.80" fill="#983a98"/><rect x="304.80" y="454.60" width="21.00" height="20.00" fill="#6b7372"/><rect x="304.80" y="474.60" width="21.00" height="256.80" fill="#f5185e"/><rect x="304.80" y="731.40" width="21.00" height="33.50" fill="#00aeb6"/><rect x="304.80" y="764.90" width="21.00" height="417.60" fill="#58c532"/><rect x="324.80" y="267.60" width="20.90" height="57.30" fill="#f9b824"/><rect x="324.80" y="324.90" width="20.90" height="14.10" fill="#f28532"/><rect x="324.80" y="339.00" width="20.90" height="41.00" fill="#983a98"/><rect x="324.80" y="380.00" width="20.90" height="44.30" fill="#6b7372"/><rect x="324.80" y="424.30" width="20.90" height="33.00" fill="#f5185e"/><rect x="324.80" y="457.30" width="20.90" height="324.90" fill="#00aeb6"/><rect x="324.80" y="782.20" width="20.90" height="400.30" fill="#58c532"/><rect x="344.70" y="274.00" width="20.50" height="15.20" fill="#f9b824"/><rect x="344.70" y="289.20" width="20.50" height="20.50" fill="#006b6a"/><rect x="344.70" y="309.70" width="20.50" height="36.80" fill="#f28532"/><rect x="344.70" y="346.50" width="20.50" height="30.30" fill="#983a98"/><rect x="344.70" y="376.80" width="20.50" height="140.00" fill="#6b7372"/><rect x="344.70" y="516.80" width="20.50" height="182.70" fill="#f5185e"/><rect x="344.70" y="699.50" width="20.50" height="143.20" fill="#00aeb6"/><rect x="344.70" y="842.70" width="20.50" height="339.80" fill="#58c532"/><rect x="364.20" y="282.70" width="19.90" height="5.30" fill="#f9b824"/><rect x="364.20" y="288.00" width="19.90" height="17.40" fill="#006b6a"/><rect x="364.20" y="305.40" width="19.90" height="23.80" fill="#f28532"/><rect x="364.20" y="329.20" width="19.90" height="33.50" fill="#983a98"/><rect x="364.20" y="362.70" width="19.90" height="74.60" fill="#6b7372"/><rect x="364.20" y="437.30" width="19.90" height="147.60" fill="#f5185e"/><rect x="364.20" y="584.90" width="19.90" height="257.80" fill="#00aeb6"/><rect x="364.20" y="842.70" width="19.90" height="339.80" fill="#58c532"/><rect x="383.10" y="324.90" width="20.90" height="87.50" fill="#f9b824"/><rect x="383.10" y="412.40" width="20.90" height="8.60" fill="#f28532"/><rect x="383.10" y="421.00" width="20.90" height="67.60" fill="#983a98"/><rect x="383.10" y="488.60" width="20.90" height="146.00" fill="#6b7372"/><rect x="383.10" y="634.60" width="20.90" height="217.80" fill="#00aeb6"/><rect x="383.10" y="852.40" width="20.90" height="330.10" fill="#58c532"/><rect x="403.00" y="279.50" width="21.40" height="6.50" fill="#f9b824"/><rect x="403.00" y="286.00" width="21.40" height="61.60" fill="#f28532"/><rect x="403.00" y="347.60" width="21.40" height="62.70" fill="#983a98"/><rect x="403.00" y="410.30" width="21.40" height="30.20" fill="#6b7372"/><rect x="403.00" y="440.50" width="21.40" height="119.50" fill="#f5185e"/><rect x="403.00" y="560.00" width="21.40" height="307.60" fill="#00aeb6"/><rect x="403.00" y="867.60" width="21.40" height="314.90" fill="#58c532"/><rect x="423.40" y="265.40" width="21.00" height="17.30" fill="#f9b824"/><rect x="423.40" y="282.70" width="21.00" height="15.10" fill="#f28532"/><rect x="423.40" y="297.80" width="21.00" height="81.10" fill="#983a98"/><rect x="423.40" y="378.90" width="21.00" height="107.60" fill="#6b7372"/><rect x="423.40" y="486.50" width="21.00" height="16.20" fill="#f5185e"/><rect x="423.40" y="502.70" width="21.00" height="380.00" fill="#00aeb6"/><rect x="423.40" y="882.70" width="21.00" height="299.80" fill="#58c532"/><rect x="443.40" y="235.00" width="18.50" height="12.00" fill="#f9b824"/><rect x="443.40" y="247.00" width="18.50" height="173.00" fill="#f28532"/><rect x="443.40" y="420.00" width="18.50" height="92.40" fill="#983a98"/><rect x="443.40" y="512.40" width="18.50" height="48.60" fill="#6b7372"/><rect x="443.40" y="561.00" width="18.50" height="36.80" fill="#f5185e"/><rect x="443.40" y="597.80" width="18.50" height="301.10" fill="#00aeb6"/><rect x="443.40" y="898.90" width="18.50" height="283.60" fill="#58c532"/><rect x="460.90" y="307.60" width="20.90" height="46.40" fill="#f9b824"/><rect x="460.90" y="354.00" width="20.90" height="4.40" fill="#006b6a"/><rect x="460.90" y="358.40" width="20.90" height="88.10" fill="#f28532"/><rect x="460.90" y="446.50" width="20.90" height="23.80" fill="#983a98"/><rect x="460.90" y="470.30" width="20.90" height="38.90" fill="#6b7372"/><rect x="460.90" y="509.20" width="20.90" height="65.80" fill="#f5185e"/><rect x="460.90" y="575.00" width="20.90" height="363.90" fill="#00aeb6"/><rect x="460.90" y="938.90" width="20.90" height="243.60" fill="#58c532"/><rect x="480.80" y="292.40" width="21.70" height="7.60" fill="#f9b824"/><rect x="480.80" y="300.00" width="21.70" height="49.70" fill="#006b6a"/><rect x="480.80" y="349.70" width="21.70" height="185.30" fill="#f28532"/><rect x="480.80" y="535.00" width="21.70" height="20.70" fill="#983a98"/><rect x="480.80" y="555.70" width="21.70" height="19.30" fill="#6b7372"/><rect x="480.80" y="575.00" width="21.70" height="379.00" fill="#00aeb6"/><rect x="480.80" y="954.00" width="21.70" height="228.50" fill="#58c532"/><rect x="501.50" y="189.70" width="21.20" height="66.00" fill="#f9b824"/><rect x="501.50" y="255.70" width="21.20" height="196.30" fill="#006b6a"/><rect x="501.50" y="452.00" width="21.20" height="83.00" fill="#f28532"/><rect x="501.50" y="535.00" width="21.20" height="4.50" fill="#983a98"/><rect x="501.50" y="539.50" width="21.20" height="59.50" fill="#6b7372"/><rect x="501.50" y="599.00" width="21.20" height="71.30" fill="#f5185e"/><rect x="501.50" y="670.30" width="21.20" height="287.00" fill="#00aeb6"/><rect x="501.50" y="957.30" width="21.20" height="225.20" fill="#58c532"/><rect x="521.70" y="94.00" width="19.70" height="20.00" fill="#f9b824"/><rect x="521.70" y="114.00" width="19.70" height="559.50" fill="#006b6a"/><rect x="521.70" y="673.50" width="19.70" height="132.50" fill="#f28532"/><rect x="521.70" y="806.00" width="19.70" height="34.50" fill="#983a98"/><rect x="521.70" y="840.50" width="19.70" height="27.10" fill="#6b7372"/><rect x="521.70" y="867.60" width="19.70" height="86.40" fill="#f5185e"/><rect x="521.70" y="954.00" width="19.70" height="9.80" fill="#00aeb6"/><rect x="521.70" y="963.80" width="19.70" height="218.70" fill="#58c532"/><rect x="540.40" y="315.00" width="20.50" height="11.00" fill="#f9b824"/><rect x="540.40" y="326.00" width="20.50" height="11.80" fill="#983a98"/><rect x="540.40" y="337.80" width="20.50" height="305.40" fill="#6b7372"/><rect x="540.40" y="643.20" width="20.50" height="158.40" fill="#f5185e"/><rect x="540.40" y="801.60" width="20.50" height="162.40" fill="#00aeb6"/><rect x="540.40" y="964.00" width="20.50" height="218.50" fill="#58c532"/><rect x="559.90" y="444.90" width="21.20" height="23.10" fill="#f9b824"/><rect x="559.90" y="468.00" width="21.20" height="5.50" fill="#f28532"/><rect x="559.90" y="473.50" width="21.20" height="88.50" fill="#983a98"/><rect x="559.90" y="562.00" width="21.20" height="140.70" fill="#6b7372"/><rect x="559.90" y="702.70" width="21.20" height="75.10" fill="#f5185e"/><rect x="559.90" y="777.80" width="21.20" height="224.90" fill="#00aeb6"/><rect x="559.90" y="1002.70" width="21.20" height="179.80" fill="#58c532"/><rect x="580.10" y="668.00" width="20.30" height="215.80" fill="#f9b824"/><rect x="580.10" y="883.80" width="20.30" height="80.30" fill="#983a98"/><rect x="580.10" y="964.10" width="20.30" height="102.30" fill="#6b7372"/><rect x="580.10" y="1066.40" width="20.30" height="116.10" fill="#f5185e"/><rect x="612.5" y="89.5" width="392.5" height="1093.0" fill="#a38224"/><rect x="612.50" y="247.20" width="21.40" height="8.60" fill="#f9b824"/><rect x="612.50" y="255.80" width="21.40" height="18.40" fill="#f28532"/><rect x="612.50" y="274.20" width="21.40" height="24.80" fill="#983a98"/><rect x="612.50" y="299.00" width="21.40" height="24.90" fill="#6b7372"/><rect x="612.50" y="323.90" width="21.40" height="35.10" fill="#f5185e"/><rect x="612.50" y="359.00" width="21.40" height="146.00" fill="#00aeb6"/><rect x="612.50" y="505.00" width="21.40" height="677.50" fill="#58c532"/><rect x="632.90" y="226.60" width="20.00" height="5.40" fill="#f9b824"/><rect x="632.90" y="232.00" width="20.00" height="23.80" fill="#006b6a"/><rect x="632.90" y="255.80" width="20.00" height="54.10" fill="#f28532"/><rect x="632.90" y="309.90" width="20.00" height="43.20" fill="#983a98"/><rect x="632.90" y="353.10" width="20.00" height="22.20" fill="#6b7372"/><rect x="632.90" y="375.30" width="20.00" height="8.60" fill="#f5185e"/><rect x="632.90" y="383.90" width="20.00" height="316.20" fill="#00aeb6"/><rect x="632.90" y="700.10" width="20.00" height="482.40" fill="#58c532"/><rect x="651.90" y="198.50" width="20.00" height="36.80" fill="#f9b824"/><rect x="651.90" y="235.30" width="20.00" height="4.70" fill="#006b6a"/><rect x="651.90" y="240.00" width="20.00" height="9.30" fill="#f28532"/><rect x="651.90" y="249.30" width="20.00" height="130.30" fill="#983a98"/><rect x="651.90" y="379.60" width="20.00" height="84.30" fill="#6b7372"/><rect x="651.90" y="463.90" width="20.00" height="249.20" fill="#f5185e"/><rect x="651.90" y="713.10" width="20.00" height="32.40" fill="#00aeb6"/><rect x="651.90" y="745.50" width="20.00" height="437.00" fill="#58c532"/><rect x="670.90" y="277.40" width="20.90" height="31.40" fill="#f9b824"/><rect x="670.90" y="308.80" width="20.90" height="8.60" fill="#f28532"/><rect x="670.90" y="317.40" width="20.90" height="83.80" fill="#983a98"/><rect x="670.90" y="401.20" width="20.90" height="58.40" fill="#6b7372"/><rect x="670.90" y="459.60" width="20.90" height="18.40" fill="#f5185e"/><rect x="670.90" y="478.00" width="20.90" height="284.80" fill="#00aeb6"/><rect x="670.90" y="762.80" width="20.90" height="419.70" fill="#58c532"/><rect x="690.80" y="236.40" width="20.50" height="132.40" fill="#f9b824"/><rect x="690.80" y="368.80" width="20.50" height="144.80" fill="#983a98"/><rect x="690.80" y="513.60" width="20.50" height="99.50" fill="#6b7372"/><rect x="690.80" y="613.10" width="20.50" height="135.70" fill="#f5185e"/><rect x="690.80" y="748.80" width="20.50" height="14.00" fill="#00aeb6"/><rect x="690.80" y="762.80" width="20.50" height="419.70" fill="#58c532"/><rect x="710.30" y="275.30" width="20.90" height="7.50" fill="#f9b824"/><rect x="710.30" y="282.80" width="20.90" height="15.20" fill="#006b6a"/><rect x="710.30" y="298.00" width="20.90" height="59.00" fill="#f28532"/><rect x="710.30" y="357.00" width="20.90" height="9.60" fill="#983a98"/><rect x="710.30" y="366.60" width="20.90" height="14.10" fill="#6b7372"/><rect x="710.30" y="380.70" width="20.90" height="101.60" fill="#f5185e"/><rect x="710.30" y="482.30" width="20.90" height="304.30" fill="#00aeb6"/><rect x="710.30" y="786.60" width="20.90" height="395.90" fill="#58c532"/><rect x="730.20" y="242.80" width="20.50" height="10.80" fill="#f9b824"/><rect x="730.20" y="253.60" width="20.50" height="71.40" fill="#f28532"/><rect x="730.20" y="325.00" width="20.50" height="69.70" fill="#983a98"/><rect x="730.20" y="394.70" width="20.50" height="72.50" fill="#6b7372"/><rect x="730.20" y="467.20" width="20.50" height="62.70" fill="#f5185e"/><rect x="730.20" y="529.90" width="20.50" height="263.20" fill="#00aeb6"/><rect x="730.20" y="793.10" width="20.50" height="389.40" fill="#58c532"/><rect x="749.70" y="174.70" width="20.50" height="10.80" fill="#f9b824"/><rect x="749.70" y="185.50" width="20.50" height="97.30" fill="#f28532"/><rect x="749.70" y="282.80" width="20.50" height="128.20" fill="#983a98"/><rect x="749.70" y="411.00" width="20.50" height="14.00" fill="#6b7372"/><rect x="749.70" y="425.00" width="20.50" height="305.40" fill="#f5185e"/><rect x="749.70" y="730.40" width="20.50" height="77.80" fill="#00aeb6"/><rect x="749.70" y="808.20" width="20.50" height="374.30" fill="#58c532"/><rect x="769.20" y="243.90" width="21.40" height="38.90" fill="#f9b824"/><rect x="769.20" y="282.80" width="21.40" height="13.00" fill="#983a98"/><rect x="769.20" y="295.80" width="21.40" height="265.40" fill="#6b7372"/><rect x="769.20" y="561.20" width="21.40" height="115.20" fill="#f5185e"/><rect x="769.20" y="676.40" width="21.40" height="153.50" fill="#00aeb6"/><rect x="769.20" y="829.90" width="21.40" height="352.60" fill="#58c532"/><rect x="789.60" y="286.00" width="19.70" height="28.20" fill="#f9b824"/><rect x="789.60" y="314.20" width="19.70" height="36.80" fill="#f28532"/><rect x="789.60" y="351.00" width="19.70" height="80.50" fill="#983a98"/><rect x="789.60" y="431.50" width="19.70" height="51.90" fill="#6b7372"/><rect x="789.60" y="483.40" width="19.70" height="349.70" fill="#00aeb6"/><rect x="789.60" y="833.10" width="19.70" height="349.40" fill="#58c532"/><rect x="808.30" y="209.30" width="20.10" height="18.40" fill="#f9b824"/><rect x="808.30" y="227.70" width="20.10" height="155.10" fill="#006b6a"/><rect x="808.30" y="382.80" width="20.10" height="27.10" fill="#f28532"/><rect x="808.30" y="409.90" width="20.10" height="124.30" fill="#6b7372"/><rect x="808.30" y="534.20" width="20.10" height="25.90" fill="#f5185e"/><rect x="808.30" y="560.10" width="20.10" height="276.30" fill="#00aeb6"/><rect x="808.30" y="836.40" width="20.10" height="346.10" fill="#58c532"/><rect x="827.40" y="250.40" width="21.50" height="47.60" fill="#f9b824"/><rect x="827.40" y="298.00" width="21.50" height="15.10" fill="#006b6a"/><rect x="827.40" y="313.10" width="21.50" height="62.20" fill="#f28532"/><rect x="827.40" y="375.30" width="21.50" height="36.70" fill="#983a98"/><rect x="827.40" y="412.00" width="21.50" height="66.00" fill="#6b7372"/><rect x="827.40" y="478.00" width="21.50" height="27.00" fill="#f5185e"/><rect x="827.40" y="505.00" width="21.50" height="334.60" fill="#00aeb6"/><rect x="827.40" y="839.60" width="21.50" height="342.90" fill="#58c532"/><rect x="847.90" y="226.60" width="21.00" height="138.90" fill="#f9b824"/><rect x="847.90" y="365.50" width="21.00" height="90.90" fill="#f28532"/><rect x="847.90" y="456.40" width="21.00" height="52.90" fill="#983a98"/><rect x="847.90" y="509.30" width="21.00" height="100.60" fill="#6b7372"/><rect x="847.90" y="609.90" width="21.00" height="231.90" fill="#00aeb6"/><rect x="847.90" y="841.80" width="21.00" height="340.70" fill="#58c532"/><rect x="867.90" y="301.20" width="19.90" height="42.20" fill="#f9b824"/><rect x="867.90" y="343.40" width="19.90" height="24.30" fill="#006b6a"/><rect x="867.90" y="367.70" width="19.90" height="56.20" fill="#f28532"/><rect x="867.90" y="423.90" width="19.90" height="37.90" fill="#983a98"/><rect x="867.90" y="461.80" width="19.90" height="20.50" fill="#6b7372"/><rect x="867.90" y="482.30" width="19.90" height="49.70" fill="#f5185e"/><rect x="867.90" y="532.00" width="19.90" height="332.50" fill="#00aeb6"/><rect x="867.90" y="864.50" width="19.90" height="318.00" fill="#58c532"/><rect x="886.80" y="91.50" width="20.50" height="22.70" fill="#f9b824"/><rect x="886.80" y="114.20" width="20.50" height="557.80" fill="#006b6a"/><rect x="886.80" y="672.00" width="20.50" height="107.00" fill="#f28532"/><rect x="886.80" y="779.00" width="20.50" height="34.60" fill="#983a98"/><rect x="886.80" y="813.60" width="20.50" height="24.90" fill="#6b7372"/><rect x="886.80" y="838.50" width="20.50" height="34.60" fill="#f5185e"/><rect x="886.80" y="873.10" width="20.50" height="8.70" fill="#00aeb6"/><rect x="886.80" y="881.80" width="20.50" height="300.70" fill="#58c532"/><rect x="906.30" y="220.10" width="19.90" height="23.80" fill="#f9b824"/><rect x="906.30" y="243.90" width="19.90" height="27.10" fill="#f28532"/><rect x="906.30" y="271.00" width="19.90" height="57.20" fill="#983a98"/><rect x="906.30" y="328.20" width="19.90" height="55.70" fill="#6b7372"/><rect x="906.30" y="383.90" width="19.90" height="275.10" fill="#f5185e"/><rect x="906.30" y="659.00" width="19.90" height="222.30" fill="#00aeb6"/><rect x="906.30" y="881.30" width="19.90" height="301.20" fill="#58c532"/><rect x="925.20" y="222.30" width="22.00" height="31.30" fill="#f9b824"/><rect x="925.20" y="253.60" width="22.00" height="4.40" fill="#006b6a"/><rect x="925.20" y="258.00" width="22.00" height="140.00" fill="#f28532"/><rect x="925.20" y="398.00" width="22.00" height="28.00" fill="#983a98"/><rect x="925.20" y="426.00" width="22.00" height="33.60" fill="#6b7372"/><rect x="925.20" y="459.60" width="22.00" height="428.00" fill="#00aeb6"/><rect x="925.20" y="887.60" width="22.00" height="294.90" fill="#58c532"/><rect x="946.20" y="223.40" width="21.00" height="8.60" fill="#f9b824"/><rect x="946.20" y="232.00" width="21.00" height="74.60" fill="#006b6a"/><rect x="946.20" y="306.60" width="21.00" height="29.20" fill="#f28532"/><rect x="946.20" y="335.80" width="21.00" height="22.20" fill="#983a98"/><rect x="946.20" y="358.00" width="21.00" height="88.60" fill="#6b7372"/><rect x="946.20" y="446.60" width="21.00" height="269.80" fill="#f5185e"/><rect x="946.20" y="716.40" width="21.00" height="186.20" fill="#00aeb6"/><rect x="946.20" y="902.60" width="21.00" height="279.90" fill="#58c532"/><rect x="966.20" y="232.00" width="19.40" height="11.90" fill="#f9b824"/><rect x="966.20" y="243.90" width="19.40" height="107.60" fill="#f28532"/><rect x="966.20" y="351.50" width="19.40" height="36.70" fill="#983a98"/><rect x="966.20" y="388.20" width="19.40" height="19.50" fill="#6b7372"/><rect x="966.20" y="407.70" width="19.40" height="154.60" fill="#f5185e"/><rect x="966.20" y="562.30" width="19.40" height="342.80" fill="#00aeb6"/><rect x="966.20" y="905.10" width="19.40" height="277.40" fill="#58c532"/><rect x="984.60" y="542.80" width="20.40" height="18.40" fill="#f9b824"/><rect x="984.60" y="561.20" width="20.40" height="61.10" fill="#983a98"/><rect x="984.60" y="622.30" width="20.40" height="50.80" fill="#6b7372"/><rect x="984.60" y="673.10" width="20.40" height="15.10" fill="#f5185e"/><rect x="984.60" y="688.20" width="20.40" height="328.60" fill="#00aeb6"/><rect x="984.60" y="1016.80" width="20.40" height="165.70" fill="#58c532"/><rect x="1015.5" y="89.5" width="394.0999999999999" height="1093.0" fill="#a38224"/><rect x="1015.50" y="226.60" width="22.40" height="6.50" fill="#f9b824"/><rect x="1015.50" y="233.10" width="22.40" height="5.40" fill="#f28532"/><rect x="1015.50" y="238.50" width="22.40" height="54.10" fill="#983a98"/><rect x="1015.50" y="292.60" width="22.40" height="27.00" fill="#6b7372"/><rect x="1015.50" y="319.60" width="22.40" height="11.90" fill="#f5185e"/><rect x="1015.50" y="331.50" width="22.40" height="123.80" fill="#00aeb6"/><rect x="1015.50" y="455.30" width="22.40" height="727.20" fill="#58c532"/><rect x="1036.90" y="111.00" width="21.00" height="23.70" fill="#f9b824"/><rect x="1036.90" y="134.70" width="21.00" height="8.70" fill="#006b6a"/><rect x="1036.90" y="143.40" width="21.00" height="81.10" fill="#f28532"/><rect x="1036.90" y="224.50" width="21.00" height="123.20" fill="#983a98"/><rect x="1036.90" y="347.70" width="21.00" height="41.60" fill="#6b7372"/><rect x="1036.90" y="389.30" width="21.00" height="144.90" fill="#f5185e"/><rect x="1036.90" y="534.20" width="21.00" height="8.60" fill="#00aeb6"/><rect x="1036.90" y="542.80" width="21.00" height="639.70" fill="#58c532"/><rect x="1056.90" y="185.50" width="21.00" height="124.40" fill="#983a98"/><rect x="1056.90" y="309.90" width="21.00" height="109.70" fill="#6b7372"/><rect x="1056.90" y="419.60" width="21.00" height="143.80" fill="#f5185e"/><rect x="1056.90" y="563.40" width="21.00" height="6.50" fill="#00aeb6"/><rect x="1056.90" y="569.90" width="21.00" height="612.60" fill="#58c532"/><rect x="1076.90" y="206.10" width="19.90" height="8.60" fill="#f9b824"/><rect x="1076.90" y="214.70" width="19.90" height="41.10" fill="#f28532"/><rect x="1076.90" y="255.80" width="19.90" height="100.20" fill="#983a98"/><rect x="1076.90" y="356.00" width="19.90" height="11.70" fill="#6b7372"/><rect x="1076.90" y="367.70" width="19.90" height="258.90" fill="#f5185e"/><rect x="1076.90" y="626.60" width="19.90" height="29.20" fill="#00aeb6"/><rect x="1076.90" y="655.80" width="19.90" height="526.70" fill="#58c532"/><rect x="1095.80" y="253.60" width="20.50" height="2.20" fill="#f9b824"/><rect x="1095.80" y="255.80" width="20.50" height="21.60" fill="#006b6a"/><rect x="1095.80" y="277.40" width="20.50" height="35.70" fill="#f28532"/><rect x="1095.80" y="313.10" width="20.50" height="8.70" fill="#983a98"/><rect x="1095.80" y="321.80" width="20.50" height="10.80" fill="#6b7372"/><rect x="1095.80" y="332.60" width="20.50" height="71.90" fill="#f5185e"/><rect x="1095.80" y="404.50" width="20.50" height="320.50" fill="#00aeb6"/><rect x="1095.80" y="725.00" width="20.50" height="457.50" fill="#58c532"/><rect x="1115.30" y="222.30" width="19.90" height="5.40" fill="#f9b824"/><rect x="1115.30" y="227.70" width="19.90" height="18.40" fill="#f28532"/><rect x="1115.30" y="246.10" width="19.90" height="76.70" fill="#983a98"/><rect x="1115.30" y="322.80" width="19.90" height="36.20" fill="#6b7372"/><rect x="1115.30" y="359.00" width="19.90" height="103.80" fill="#f5185e"/><rect x="1115.30" y="462.80" width="19.90" height="290.30" fill="#00aeb6"/><rect x="1115.30" y="753.10" width="19.90" height="429.40" fill="#58c532"/><rect x="1134.20" y="300.10" width="22.00" height="65.40" fill="#f9b824"/><rect x="1134.20" y="365.50" width="22.00" height="13.00" fill="#f28532"/><rect x="1134.20" y="378.50" width="22.00" height="43.30" fill="#983a98"/><rect x="1134.20" y="421.80" width="22.00" height="41.00" fill="#6b7372"/><rect x="1134.20" y="462.80" width="22.00" height="42.20" fill="#f5185e"/><rect x="1134.20" y="505.00" width="22.00" height="257.80" fill="#00aeb6"/><rect x="1134.20" y="762.80" width="22.00" height="419.70" fill="#58c532"/><rect x="1155.20" y="280.70" width="20.50" height="3.20" fill="#f9b824"/><rect x="1155.20" y="283.90" width="20.50" height="17.30" fill="#006b6a"/><rect x="1155.20" y="301.20" width="20.50" height="36.80" fill="#f28532"/><rect x="1155.20" y="338.00" width="20.50" height="26.50" fill="#983a98"/><rect x="1155.20" y="364.50" width="20.50" height="14.00" fill="#6b7372"/><rect x="1155.20" y="378.50" width="20.50" height="103.80" fill="#f5185e"/><rect x="1155.20" y="482.30" width="20.50" height="288.10" fill="#00aeb6"/><rect x="1155.20" y="770.40" width="20.50" height="412.10" fill="#58c532"/><rect x="1174.70" y="314.20" width="19.90" height="14.00" fill="#f9b824"/><rect x="1174.70" y="328.20" width="19.90" height="57.90" fill="#006b6a"/><rect x="1174.70" y="386.10" width="19.90" height="8.60" fill="#983a98"/><rect x="1174.70" y="394.70" width="19.90" height="226.50" fill="#6b7372"/><rect x="1174.70" y="621.20" width="19.90" height="58.40" fill="#f5185e"/><rect x="1174.70" y="679.60" width="19.90" height="90.80" fill="#00aeb6"/><rect x="1174.70" y="770.40" width="19.90" height="412.10" fill="#58c532"/><rect x="1193.60" y="229.90" width="21.70" height="23.70" fill="#f9b824"/><rect x="1193.60" y="253.60" width="21.70" height="118.40" fill="#006b6a"/><rect x="1193.60" y="372.00" width="21.70" height="30.30" fill="#f28532"/><rect x="1193.60" y="402.30" width="21.70" height="54.10" fill="#983a98"/><rect x="1193.60" y="456.40" width="21.70" height="70.20" fill="#6b7372"/><rect x="1193.60" y="526.60" width="21.70" height="21.60" fill="#f5185e"/><rect x="1193.60" y="548.20" width="21.70" height="234.10" fill="#00aeb6"/><rect x="1193.60" y="782.30" width="21.70" height="400.20" fill="#58c532"/><rect x="1214.30" y="265.50" width="21.10" height="48.70" fill="#f9b824"/><rect x="1214.30" y="314.20" width="21.10" height="19.40" fill="#006b6a"/><rect x="1214.30" y="333.60" width="21.10" height="47.10" fill="#f28532"/><rect x="1214.30" y="380.70" width="21.10" height="20.50" fill="#983a98"/><rect x="1214.30" y="401.20" width="21.10" height="23.80" fill="#6b7372"/><rect x="1214.30" y="425.00" width="21.10" height="80.00" fill="#f5185e"/><rect x="1214.30" y="505.00" width="21.10" height="314.00" fill="#00aeb6"/><rect x="1214.30" y="819.00" width="21.10" height="363.50" fill="#58c532"/><rect x="1234.40" y="255.80" width="20.00" height="20.60" fill="#f9b824"/><rect x="1234.40" y="276.40" width="20.00" height="3.20" fill="#006b6a"/><rect x="1234.40" y="279.60" width="20.00" height="127.00" fill="#f28532"/><rect x="1234.40" y="406.60" width="20.00" height="28.10" fill="#983a98"/><rect x="1234.40" y="434.70" width="20.00" height="32.50" fill="#6b7372"/><rect x="1234.40" y="467.20" width="20.00" height="390.80" fill="#00aeb6"/><rect x="1234.40" y="858.00" width="20.00" height="324.50" fill="#58c532"/><rect x="1253.40" y="225.50" width="20.00" height="56.30" fill="#f9b824"/><rect x="1253.40" y="281.80" width="20.00" height="15.10" fill="#f28532"/><rect x="1253.40" y="296.90" width="20.00" height="79.50" fill="#983a98"/><rect x="1253.40" y="376.40" width="20.00" height="140.50" fill="#6b7372"/><rect x="1253.40" y="516.90" width="20.00" height="188.60" fill="#f5185e"/><rect x="1253.40" y="705.50" width="20.00" height="163.30" fill="#00aeb6"/><rect x="1253.40" y="868.80" width="20.00" height="313.70" fill="#58c532"/><rect x="1272.40" y="252.60" width="21.40" height="61.60" fill="#f9b824"/><rect x="1272.40" y="314.20" width="21.40" height="1.30" fill="#006b6a"/><rect x="1272.40" y="315.50" width="21.40" height="104.10" fill="#f28532"/><rect x="1272.40" y="419.60" width="21.40" height="30.30" fill="#983a98"/><rect x="1272.40" y="449.90" width="21.40" height="43.20" fill="#6b7372"/><rect x="1272.40" y="493.10" width="21.40" height="58.40" fill="#f5185e"/><rect x="1272.40" y="551.50" width="21.40" height="327.00" fill="#00aeb6"/><rect x="1272.40" y="878.50" width="21.40" height="304.00" fill="#58c532"/><rect x="1292.80" y="234.20" width="21.50" height="7.60" fill="#f9b824"/><rect x="1292.80" y="241.80" width="21.50" height="214.60" fill="#f28532"/><rect x="1292.80" y="456.40" width="21.50" height="59.40" fill="#983a98"/><rect x="1292.80" y="515.80" width="21.50" height="33.50" fill="#6b7372"/><rect x="1292.80" y="549.30" width="21.50" height="31.40" fill="#f5185e"/><rect x="1292.80" y="580.70" width="21.50" height="328.20" fill="#00aeb6"/><rect x="1292.80" y="908.90" width="21.50" height="273.60" fill="#58c532"/><rect x="1313.30" y="417.40" width="18.40" height="87.60" fill="#f9b824"/><rect x="1313.30" y="505.00" width="18.40" height="14.00" fill="#f28532"/><rect x="1313.30" y="519.00" width="18.40" height="69.20" fill="#983a98"/><rect x="1313.30" y="588.20" width="18.40" height="24.90" fill="#6b7372"/><rect x="1313.30" y="613.10" width="18.40" height="6.50" fill="#f5185e"/><rect x="1313.30" y="619.60" width="18.40" height="291.80" fill="#00aeb6"/><rect x="1313.30" y="911.40" width="18.40" height="271.10" fill="#58c532"/><rect x="1330.70" y="237.40" width="20.10" height="6.50" fill="#f9b824"/><rect x="1330.70" y="243.90" width="20.10" height="57.30" fill="#006b6a"/><rect x="1330.70" y="301.20" width="20.10" height="27.00" fill="#f28532"/><rect x="1330.70" y="328.20" width="20.10" height="42.80" fill="#983a98"/><rect x="1330.70" y="371.00" width="20.10" height="128.60" fill="#6b7372"/><rect x="1330.70" y="499.60" width="20.10" height="217.80" fill="#f5185e"/><rect x="1330.70" y="717.40" width="20.10" height="210.30" fill="#00aeb6"/><rect x="1330.70" y="927.70" width="20.10" height="254.80" fill="#58c532"/><rect x="1349.80" y="580.70" width="22.00" height="69.70" fill="#f9b824"/><rect x="1349.80" y="650.40" width="22.00" height="49.70" fill="#983a98"/><rect x="1349.80" y="700.10" width="22.00" height="94.10" fill="#6b7372"/><rect x="1349.80" y="794.20" width="22.00" height="112.20" fill="#f5185e"/><rect x="1349.80" y="906.40" width="22.00" height="31.40" fill="#00aeb6"/><rect x="1349.80" y="937.80" width="22.00" height="244.70" fill="#58c532"/><rect x="1370.80" y="331.50" width="22.20" height="106.50" fill="#f9b824"/><rect x="1370.80" y="438.00" width="22.20" height="23.80" fill="#006b6a"/><rect x="1370.80" y="461.80" width="22.20" height="23.70" fill="#f28532"/><rect x="1370.80" y="485.50" width="22.20" height="3.30" fill="#983a98"/><rect x="1370.80" y="488.80" width="22.20" height="136.70" fill="#6b7372"/><rect x="1370.80" y="625.50" width="22.20" height="115.70" fill="#f5185e"/><rect x="1370.80" y="741.20" width="22.20" height="243.00" fill="#00aeb6"/><rect x="1370.80" y="984.20" width="22.20" height="198.30" fill="#58c532"/><rect x="1392.00" y="577.40" width="17.60" height="28.10" fill="#f9b824"/><rect x="1392.00" y="605.50" width="17.60" height="4.40" fill="#f28532"/><rect x="1392.00" y="609.90" width="17.60" height="53.50" fill="#983a98"/><rect x="1392.00" y="663.40" width="17.60" height="50.80" fill="#6b7372"/><rect x="1392.00" y="714.20" width="17.60" height="3.20" fill="#f5185e"/><rect x="1392.00" y="717.40" width="17.60" height="278.10" fill="#00aeb6"/><rect x="1392.00" y="995.50" width="17.60" height="187.00" fill="#58c532"/><rect x="1445.5" y="256.5" width="46" height="44" fill="#58c532"/><rect x="1445.5" y="340.0" width="46" height="44" fill="#00aeb6"/><rect x="1445.5" y="423.5" width="46" height="44" fill="#f5185e"/><rect x="1445.5" y="507.0" width="46" height="44" fill="#6b7372"/><rect x="1445.5" y="590.5" width="46" height="44" fill="#983a98"/><rect x="1445.5" y="674.0" width="46" height="44" fill="#f28532"/><rect x="1445.5" y="757.5" width="46" height="44" fill="#006b6a"/><rect x="1445.5" y="841.0" width="46" height="44" fill="#f9b824"/><rect x="1445.5" y="924.5" width="46" height="44" fill="#a38224"/></g><g clip-path="url(#b2)"><rect x="206.5" y="89.5" width="393.9" height="1093.0" fill="#a38224"/><rect x="206.50" y="209.00" width="20.90" height="12.00" fill="#ffbc08"/><rect x="206.50" y="221.00" width="20.90" height="76.00" fill="#f7862e"/><rect x="206.50" y="297.00" width="20.90" height="49.50" fill="#a03aa0"/><rect x="206.50" y="346.50" width="20.90" height="14.00" fill="#6e7676"/><rect x="206.50" y="360.50" width="20.90" height="13.00" fill="#ff0864"/><rect x="206.50" y="373.50" width="20.90" height="176.80" fill="#00b8be"/><rect x="206.50" y="550.30" width="20.90" height="632.20" fill="#4cd000"/><rect x="226.40" y="254.60" width="21.50" height="31.40" fill="#006a6a"/><rect x="226.40" y="286.00" width="21.50" height="26.00" fill="#f7862e"/><rect x="226.40" y="312.00" width="21.50" height="48.50" fill="#a03aa0"/><rect x="226.40" y="360.50" width="21.50" height="24.90" fill="#6e7676"/><rect x="226.40" y="385.40" width="21.50" height="20.60" fill="#ff0864"/><rect x="226.40" y="406.00" width="21.50" height="256.70" fill="#00b8be"/><rect x="226.40" y="662.70" width="21.50" height="519.80" fill="#4cd000"/><rect x="246.90" y="194.00" width="20.00" height="13.00" fill="#ffbc08"/><rect x="246.90" y="207.00" width="20.00" height="27.00" fill="#f7862e"/><rect x="246.90" y="234.00" width="20.00" height="71.40" fill="#a03aa0"/><rect x="246.90" y="305.40" width="20.00" height="68.10" fill="#6e7676"/><rect x="246.90" y="373.50" width="20.00" height="118.40" fill="#ff0864"/><rect x="246.90" y="491.90" width="20.00" height="177.30" fill="#00b8be"/><rect x="246.90" y="669.20" width="20.00" height="513.30" fill="#4cd000"/><rect x="265.90" y="283.80" width="20.40" height="4.20" fill="#ffbc08"/><rect x="265.90" y="288.00" width="20.40" height="33.60" fill="#006a6a"/><rect x="265.90" y="321.60" width="20.40" height="24.90" fill="#f7862e"/><rect x="265.90" y="346.50" width="20.40" height="13.00" fill="#a03aa0"/><rect x="265.90" y="359.50" width="20.40" height="16.20" fill="#6e7676"/><rect x="265.90" y="375.70" width="20.40" height="118.30" fill="#ff0864"/><rect x="265.90" y="494.00" width="20.40" height="244.90" fill="#00b8be"/><rect x="265.90" y="738.90" width="20.40" height="443.60" fill="#4cd000"/><rect x="285.30" y="243.80" width="20.50" height="22.00" fill="#ffbc08"/><rect x="285.30" y="265.80" width="20.50" height="2.40" fill="#006a6a"/><rect x="285.30" y="268.20" width="20.50" height="31.80" fill="#f7862e"/><rect x="285.30" y="300.00" width="20.50" height="115.70" fill="#a03aa0"/><rect x="285.30" y="415.70" width="20.50" height="52.30" fill="#6e7676"/><rect x="285.30" y="468.00" width="20.50" height="66.00" fill="#ff0864"/><rect x="285.30" y="534.00" width="20.50" height="217.90" fill="#00b8be"/><rect x="285.30" y="751.90" width="20.50" height="430.60" fill="#4cd000"/><rect x="304.80" y="208.00" width="21.00" height="18.50" fill="#ffbc08"/><rect x="304.80" y="226.50" width="21.00" height="97.30" fill="#f7862e"/><rect x="304.80" y="323.80" width="21.00" height="130.80" fill="#a03aa0"/><rect x="304.80" y="454.60" width="21.00" height="20.00" fill="#6e7676"/><rect x="304.80" y="474.60" width="21.00" height="256.80" fill="#ff0864"/><rect x="304.80" y="731.40" width="21.00" height="33.50" fill="#00b8be"/><rect x="304.80" y="764.90" width="21.00" height="417.60" fill="#4cd000"/><rect x="324.80" y="267.60" width="20.90" height="57.30" fill="#ffbc08"/><rect x="324.80" y="324.90" width="20.90" height="14.10" fill="#f7862e"/><rect x="324.80" y="339.00" width="20.90" height="41.00" fill="#a03aa0"/><rect x="324.80" y="380.00" width="20.90" height="44.30" fill="#6e7676"/><rect x="324.80" y="424.30" width="20.90" height="33.00" fill="#ff0864"/><rect x="324.80" y="457.30" width="20.90" height="324.90" fill="#00b8be"/><rect x="324.80" y="782.20" width="20.90" height="400.30" fill="#4cd000"/><rect x="344.70" y="274.00" width="20.50" height="15.20" fill="#ffbc08"/><rect x="344.70" y="289.20" width="20.50" height="20.50" fill="#006a6a"/><rect x="344.70" y="309.70" width="20.50" height="36.80" fill="#f7862e"/><rect x="344.70" y="346.50" width="20.50" height="30.30" fill="#a03aa0"/><rect x="344.70" y="376.80" width="20.50" height="140.00" fill="#6e7676"/><rect x="344.70" y="516.80" width="20.50" height="182.70" fill="#ff0864"/><rect x="344.70" y="699.50" width="20.50" height="143.20" fill="#00b8be"/><rect x="344.70" y="842.70" width="20.50" height="339.80" fill="#4cd000"/><rect x="364.20" y="282.70" width="19.90" height="5.30" fill="#ffbc08"/><rect x="364.20" y="288.00" width="19.90" height="17.40" fill="#006a6a"/><rect x="364.20" y="305.40" width="19.90" height="23.80" fill="#f7862e"/><rect x="364.20" y="329.20" width="19.90" height="33.50" fill="#a03aa0"/><rect x="364.20" y="362.70" width="19.90" height="74.60" fill="#6e7676"/><rect x="364.20" y="437.30" width="19.90" height="147.60" fill="#ff0864"/><rect x="364.20" y="584.90" width="19.90" height="257.80" fill="#00b8be"/><rect x="364.20" y="842.70" width="19.90" height="339.80" fill="#4cd000"/><rect x="383.10" y="324.90" width="20.90" height="87.50" fill="#ffbc08"/><rect x="383.10" y="412.40" width="20.90" height="8.60" fill="#f7862e"/><rect x="383.10" y="421.00" width="20.90" height="67.60" fill="#a03aa0"/><rect x="383.10" y="488.60" width="20.90" height="146.00" fill="#6e7676"/><rect x="383.10" y="634.60" width="20.90" height="217.80" fill="#00b8be"/><rect x="383.10" y="852.40" width="20.90" height="330.10" fill="#4cd000"/><rect x="403.00" y="279.50" width="21.40" height="6.50" fill="#ffbc08"/><rect x="403.00" y="286.00" width="21.40" height="61.60" fill="#f7862e"/><rect x="403.00" y="347.60" width="21.40" height="62.70" fill="#a03aa0"/><rect x="403.00" y="410.30" width="21.40" height="30.20" fill="#6e7676"/><rect x="403.00" y="440.50" width="21.40" height="119.50" fill="#ff0864"/><rect x="403.00" y="560.00" width="21.40" height="307.60" fill="#00b8be"/><rect x="403.00" y="867.60" width="21.40" height="314.90" fill="#4cd000"/><rect x="423.40" y="265.40" width="21.00" height="17.30" fill="#ffbc08"/><rect x="423.40" y="282.70" width="21.00" height="15.10" fill="#f7862e"/><rect x="423.40" y="297.80" width="21.00" height="81.10" fill="#a03aa0"/><rect x="423.40" y="378.90" width="21.00" height="107.60" fill="#6e7676"/><rect x="423.40" y="486.50" width="21.00" height="16.20" fill="#ff0864"/><rect x="423.40" y="502.70" width="21.00" height="380.00" fill="#00b8be"/><rect x="423.40" y="882.70" width="21.00" height="299.80" fill="#4cd000"/><rect x="443.40" y="235.00" width="18.50" height="12.00" fill="#ffbc08"/><rect x="443.40" y="247.00" width="18.50" height="173.00" fill="#f7862e"/><rect x="443.40" y="420.00" width="18.50" height="92.40" fill="#a03aa0"/><rect x="443.40" y="512.40" width="18.50" height="48.60" fill="#6e7676"/><rect x="443.40" y="561.00" width="18.50" height="36.80" fill="#ff0864"/><rect x="443.40" y="597.80" width="18.50" height="301.10" fill="#00b8be"/><rect x="443.40" y="898.90" width="18.50" height="283.60" fill="#4cd000"/><rect x="460.90" y="307.60" width="20.90" height="46.40" fill="#ffbc08"/><rect x="460.90" y="354.00" width="20.90" height="4.40" fill="#006a6a"/><rect x="460.90" y="358.40" width="20.90" height="88.10" fill="#f7862e"/><rect x="460.90" y="446.50" width="20.90" height="23.80" fill="#a03aa0"/><rect x="460.90" y="470.30" width="20.90" height="38.90" fill="#6e7676"/><rect x="460.90" y="509.20" width="20.90" height="65.80" fill="#ff0864"/><rect x="460.90" y="575.00" width="20.90" height="363.90" fill="#00b8be"/><rect x="460.90" y="938.90" width="20.90" height="243.60" fill="#4cd000"/><rect x="480.80" y="292.40" width="21.70" height="7.60" fill="#ffbc08"/><rect x="480.80" y="300.00" width="21.70" height="49.70" fill="#006a6a"/><rect x="480.80" y="349.70" width="21.70" height="185.30" fill="#f7862e"/><rect x="480.80" y="535.00" width="21.70" height="20.70" fill="#a03aa0"/><rect x="480.80" y="555.70" width="21.70" height="19.30" fill="#6e7676"/><rect x="480.80" y="575.00" width="21.70" height="379.00" fill="#00b8be"/><rect x="480.80" y="954.00" width="21.70" height="228.50" fill="#4cd000"/><rect x="501.50" y="189.70" width="21.20" height="66.00" fill="#ffbc08"/><rect x="501.50" y="255.70" width="21.20" height="196.30" fill="#006a6a"/><rect x="501.50" y="452.00" width="21.20" height="83.00" fill="#f7862e"/><rect x="501.50" y="535.00" width="21.20" height="4.50" fill="#a03aa0"/><rect x="501.50" y="539.50" width="21.20" height="59.50" fill="#6e7676"/><rect x="501.50" y="599.00" width="21.20" height="71.30" fill="#ff0864"/><rect x="501.50" y="670.30" width="21.20" height="287.00" fill="#00b8be"/><rect x="501.50" y="957.30" width="21.20" height="225.20" fill="#4cd000"/><rect x="521.70" y="94.00" width="19.70" height="20.00" fill="#ffbc08"/><rect x="521.70" y="114.00" width="19.70" height="559.50" fill="#006a6a"/><rect x="521.70" y="673.50" width="19.70" height="132.50" fill="#f7862e"/><rect x="521.70" y="806.00" width="19.70" height="34.50" fill="#a03aa0"/><rect x="521.70" y="840.50" width="19.70" height="27.10" fill="#6e7676"/><rect x="521.70" y="867.60" width="19.70" height="86.40" fill="#ff0864"/><rect x="521.70" y="954.00" width="19.70" height="9.80" fill="#00b8be"/><rect x="521.70" y="963.80" width="19.70" height="218.70" fill="#4cd000"/><rect x="540.40" y="315.00" width="20.50" height="11.00" fill="#ffbc08"/><rect x="540.40" y="326.00" width="20.50" height="11.80" fill="#a03aa0"/><rect x="540.40" y="337.80" width="20.50" height="305.40" fill="#6e7676"/><rect x="540.40" y="643.20" width="20.50" height="158.40" fill="#ff0864"/><rect x="540.40" y="801.60" width="20.50" height="162.40" fill="#00b8be"/><rect x="540.40" y="964.00" width="20.50" height="218.50" fill="#4cd000"/><rect x="559.90" y="444.90" width="21.20" height="23.10" fill="#ffbc08"/><rect x="559.90" y="468.00" width="21.20" height="5.50" fill="#f7862e"/><rect x="559.90" y="473.50" width="21.20" height="88.50" fill="#a03aa0"/><rect x="559.90" y="562.00" width="21.20" height="140.70" fill="#6e7676"/><rect x="559.90" y="702.70" width="21.20" height="75.10" fill="#ff0864"/><rect x="559.90" y="777.80" width="21.20" height="224.90" fill="#00b8be"/><rect x="559.90" y="1002.70" width="21.20" height="179.80" fill="#4cd000"/><rect x="580.10" y="668.00" width="20.30" height="215.80" fill="#ffbc08"/><rect x="580.10" y="883.80" width="20.30" height="80.30" fill="#a03aa0"/><rect x="580.10" y="964.10" width="20.30" height="102.30" fill="#6e7676"/><rect x="580.10" y="1066.40" width="20.30" height="116.10" fill="#ff0864"/><rect x="612.5" y="89.5" width="392.5" height="1093.0" fill="#a38224"/><rect x="612.50" y="247.20" width="21.40" height="8.60" fill="#ffbc08"/><rect x="612.50" y="255.80" width="21.40" height="18.40" fill="#f7862e"/><rect x="612.50" y="274.20" width="21.40" height="24.80" fill="#a03aa0"/><rect x="612.50" y="299.00" width="21.40" height="24.90" fill="#6e7676"/><rect x="612.50" y="323.90" width="21.40" height="35.10" fill="#ff0864"/><rect x="612.50" y="359.00" width="21.40" height="146.00" fill="#00b8be"/><rect x="612.50" y="505.00" width="21.40" height="677.50" fill="#4cd000"/><rect x="632.90" y="226.60" width="20.00" height="5.40" fill="#ffbc08"/><rect x="632.90" y="232.00" width="20.00" height="23.80" fill="#006a6a"/><rect x="632.90" y="255.80" width="20.00" height="54.10" fill="#f7862e"/><rect x="632.90" y="309.90" width="20.00" height="43.20" fill="#a03aa0"/><rect x="632.90" y="353.10" width="20.00" height="22.20" fill="#6e7676"/><rect x="632.90" y="375.30" width="20.00" height="8.60" fill="#ff0864"/><rect x="632.90" y="383.90" width="20.00" height="316.20" fill="#00b8be"/><rect x="632.90" y="700.10" width="20.00" height="482.40" fill="#4cd000"/><rect x="651.90" y="198.50" width="20.00" height="36.80" fill="#ffbc08"/><rect x="651.90" y="235.30" width="20.00" height="4.70" fill="#006a6a"/><rect x="651.90" y="240.00" width="20.00" height="9.30" fill="#f7862e"/><rect x="651.90" y="249.30" width="20.00" height="130.30" fill="#a03aa0"/><rect x="651.90" y="379.60" width="20.00" height="84.30" fill="#6e7676"/><rect x="651.90" y="463.90" width="20.00" height="249.20" fill="#ff0864"/><rect x="651.90" y="713.10" width="20.00" height="32.40" fill="#00b8be"/><rect x="651.90" y="745.50" width="20.00" height="437.00" fill="#4cd000"/><rect x="670.90" y="277.40" width="20.90" height="31.40" fill="#ffbc08"/><rect x="670.90" y="308.80" width="20.90" height="8.60" fill="#f7862e"/><rect x="670.90" y="317.40" width="20.90" height="83.80" fill="#a03aa0"/><rect x="670.90" y="401.20" width="20.90" height="58.40" fill="#6e7676"/><rect x="670.90" y="459.60" width="20.90" height="18.40" fill="#ff0864"/><rect x="670.90" y="478.00" width="20.90" height="284.80" fill="#00b8be"/><rect x="670.90" y="762.80" width="20.90" height="419.70" fill="#4cd000"/><rect x="690.80" y="236.40" width="20.50" height="132.40" fill="#ffbc08"/><rect x="690.80" y="368.80" width="20.50" height="144.80" fill="#a03aa0"/><rect x="690.80" y="513.60" width="20.50" height="99.50" fill="#6e7676"/><rect x="690.80" y="613.10" width="20.50" height="135.70" fill="#ff0864"/><rect x="690.80" y="748.80" width="20.50" height="14.00" fill="#00b8be"/><rect x="690.80" y="762.80" width="20.50" height="419.70" fill="#4cd000"/><rect x="710.30" y="275.30" width="20.90" height="7.50" fill="#ffbc08"/><rect x="710.30" y="282.80" width="20.90" height="15.20" fill="#006a6a"/><rect x="710.30" y="298.00" width="20.90" height="59.00" fill="#f7862e"/><rect x="710.30" y="357.00" width="20.90" height="9.60" fill="#a03aa0"/><rect x="710.30" y="366.60" width="20.90" height="14.10" fill="#6e7676"/><rect x="710.30" y="380.70" width="20.90" height="101.60" fill="#ff0864"/><rect x="710.30" y="482.30" width="20.90" height="304.30" fill="#00b8be"/><rect x="710.30" y="786.60" width="20.90" height="395.90" fill="#4cd000"/><rect x="730.20" y="242.80" width="20.50" height="10.80" fill="#ffbc08"/><rect x="730.20" y="253.60" width="20.50" height="71.40" fill="#f7862e"/><rect x="730.20" y="325.00" width="20.50" height="69.70" fill="#a03aa0"/><rect x="730.20" y="394.70" width="20.50" height="72.50" fill="#6e7676"/><rect x="730.20" y="467.20" width="20.50" height="62.70" fill="#ff0864"/><rect x="730.20" y="529.90" width="20.50" height="263.20" fill="#00b8be"/><rect x="730.20" y="793.10" width="20.50" height="389.40" fill="#4cd000"/><rect x="749.70" y="174.70" width="20.50" height="10.80" fill="#ffbc08"/><rect x="749.70" y="185.50" width="20.50" height="97.30" fill="#f7862e"/><rect x="749.70" y="282.80" width="20.50" height="128.20" fill="#a03aa0"/><rect x="749.70" y="411.00" width="20.50" height="14.00" fill="#6e7676"/><rect x="749.70" y="425.00" width="20.50" height="305.40" fill="#ff0864"/><rect x="749.70" y="730.40" width="20.50" height="77.80" fill="#00b8be"/><rect x="749.70" y="808.20" width="20.50" height="374.30" fill="#4cd000"/><rect x="769.20" y="243.90" width="21.40" height="38.90" fill="#ffbc08"/><rect x="769.20" y="282.80" width="21.40" height="13.00" fill="#a03aa0"/><rect x="769.20" y="295.80" width="21.40" height="265.40" fill="#6e7676"/><rect x="769.20" y="561.20" width="21.40" height="115.20" fill="#ff0864"/><rect x="769.20" y="676.40" width="21.40" height="153.50" fill="#00b8be"/><rect x="769.20" y="829.90" width="21.40" height="352.60" fill="#4cd000"/><rect x="789.60" y="286.00" width="19.70" height="28.20" fill="#ffbc08"/><rect x="789.60" y="314.20" width="19.70" height="36.80" fill="#f7862e"/><rect x="789.60" y="351.00" width="19.70" height="80.50" fill="#a03aa0"/><rect x="789.60" y="431.50" width="19.70" height="51.90" fill="#6e7676"/><rect x="789.60" y="483.40" width="19.70" height="349.70" fill="#00b8be"/><rect x="789.60" y="833.10" width="19.70" height="349.40" fill="#4cd000"/><rect x="808.30" y="209.30" width="20.10" height="18.40" fill="#ffbc08"/><rect x="808.30" y="227.70" width="20.10" height="155.10" fill="#006a6a"/><rect x="808.30" y="382.80" width="20.10" height="27.10" fill="#f7862e"/><rect x="808.30" y="409.90" width="20.10" height="124.30" fill="#6e7676"/><rect x="808.30" y="534.20" width="20.10" height="25.90" fill="#ff0864"/><rect x="808.30" y="560.10" width="20.10" height="276.30" fill="#00b8be"/><rect x="808.30" y="836.40" width="20.10" height="346.10" fill="#4cd000"/><rect x="827.40" y="250.40" width="21.50" height="47.60" fill="#ffbc08"/><rect x="827.40" y="298.00" width="21.50" height="15.10" fill="#006a6a"/><rect x="827.40" y="313.10" width="21.50" height="62.20" fill="#f7862e"/><rect x="827.40" y="375.30" width="21.50" height="36.70" fill="#a03aa0"/><rect x="827.40" y="412.00" width="21.50" height="66.00" fill="#6e7676"/><rect x="827.40" y="478.00" width="21.50" height="27.00" fill="#ff0864"/><rect x="827.40" y="505.00" width="21.50" height="334.60" fill="#00b8be"/><rect x="827.40" y="839.60" width="21.50" height="342.90" fill="#4cd000"/><rect x="847.90" y="226.60" width="21.00" height="138.90" fill="#ffbc08"/><rect x="847.90" y="365.50" width="21.00" height="90.90" fill="#f7862e"/><rect x="847.90" y="456.40" width="21.00" height="52.90" fill="#a03aa0"/><rect x="847.90" y="509.30" width="21.00" height="100.60" fill="#6e7676"/><rect x="847.90" y="609.90" width="21.00" height="231.90" fill="#00b8be"/><rect x="847.90" y="841.80" width="21.00" height="340.70" fill="#4cd000"/><rect x="867.90" y="301.20" width="19.90" height="42.20" fill="#ffbc08"/><rect x="867.90" y="343.40" width="19.90" height="24.30" fill="#006a6a"/><rect x="867.90" y="367.70" width="19.90" height="56.20" fill="#f7862e"/><rect x="867.90" y="423.90" width="19.90" height="37.90" fill="#a03aa0"/><rect x="867.90" y="461.80" width="19.90" height="20.50" fill="#6e7676"/><rect x="867.90" y="482.30" width="19.90" height="49.70" fill="#ff0864"/><rect x="867.90" y="532.00" width="19.90" height="332.50" fill="#00b8be"/><rect x="867.90" y="864.50" width="19.90" height="318.00" fill="#4cd000"/><rect x="886.80" y="91.50" width="20.50" height="22.70" fill="#ffbc08"/><rect x="886.80" y="114.20" width="20.50" height="557.80" fill="#006a6a"/><rect x="886.80" y="672.00" width="20.50" height="107.00" fill="#f7862e"/><rect x="886.80" y="779.00" width="20.50" height="34.60" fill="#a03aa0"/><rect x="886.80" y="813.60" width="20.50" height="24.90" fill="#6e7676"/><rect x="886.80" y="838.50" width="20.50" height="34.60" fill="#ff0864"/><rect x="886.80" y="873.10" width="20.50" height="8.70" fill="#00b8be"/><rect x="886.80" y="881.80" width="20.50" height="300.70" fill="#4cd000"/><rect x="906.30" y="220.10" width="19.90" height="23.80" fill="#ffbc08"/><rect x="906.30" y="243.90" width="19.90" height="27.10" fill="#f7862e"/><rect x="906.30" y="271.00" width="19.90" height="57.20" fill="#a03aa0"/><rect x="906.30" y="328.20" width="19.90" height="55.70" fill="#6e7676"/><rect x="906.30" y="383.90" width="19.90" height="275.10" fill="#ff0864"/><rect x="906.30" y="659.00" width="19.90" height="222.30" fill="#00b8be"/><rect x="906.30" y="881.30" width="19.90" height="301.20" fill="#4cd000"/><rect x="925.20" y="222.30" width="22.00" height="31.30" fill="#ffbc08"/><rect x="925.20" y="253.60" width="22.00" height="4.40" fill="#006a6a"/><rect x="925.20" y="258.00" width="22.00" height="140.00" fill="#f7862e"/><rect x="925.20" y="398.00" width="22.00" height="28.00" fill="#a03aa0"/><rect x="925.20" y="426.00" width="22.00" height="33.60" fill="#6e7676"/><rect x="925.20" y="459.60" width="22.00" height="428.00" fill="#00b8be"/><rect x="925.20" y="887.60" width="22.00" height="294.90" fill="#4cd000"/><rect x="946.20" y="223.40" width="21.00" height="8.60" fill="#ffbc08"/><rect x="946.20" y="232.00" width="21.00" height="74.60" fill="#006a6a"/><rect x="946.20" y="306.60" width="21.00" height="29.20" fill="#f7862e"/><rect x="946.20" y="335.80" width="21.00" height="22.20" fill="#a03aa0"/><rect x="946.20" y="358.00" width="21.00" height="88.60" fill="#6e7676"/><rect x="946.20" y="446.60" width="21.00" height="269.80" fill="#ff0864"/><rect x="946.20" y="716.40" width="21.00" height="186.20" fill="#00b8be"/><rect x="946.20" y="902.60" width="21.00" height="279.90" fill="#4cd000"/><rect x="966.20" y="232.00" width="19.40" height="11.90" fill="#ffbc08"/><rect x="966.20" y="243.90" width="19.40" height="107.60" fill="#f7862e"/><rect x="966.20" y="351.50" width="19.40" height="36.70" fill="#a03aa0"/><rect x="966.20" y="388.20" width="19.40" height="19.50" fill="#6e7676"/><rect x="966.20" y="407.70" width="19.40" height="154.60" fill="#ff0864"/><rect x="966.20" y="562.30" width="19.40" height="342.80" fill="#00b8be"/><rect x="966.20" y="905.10" width="19.40" height="277.40" fill="#4cd000"/><rect x="984.60" y="542.80" width="20.40" height="18.40" fill="#ffbc08"/><rect x="984.60" y="561.20" width="20.40" height="61.10" fill="#a03aa0"/><rect x="984.60" y="622.30" width="20.40" height="50.80" fill="#6e7676"/><rect x="984.60" y="673.10" width="20.40" height="15.10" fill="#ff0864"/><rect x="984.60" y="688.20" width="20.40" height="328.60" fill="#00b8be"/><rect x="984.60" y="1016.80" width="20.40" height="165.70" fill="#4cd000"/><rect x="1015.5" y="89.5" width="394.0999999999999" height="1093.0" fill="#a38224"/><rect x="1015.50" y="226.60" width="22.40" height="6.50" fill="#ffbc08"/><rect x="1015.50" y="233.10" width="22.40" height="5.40" fill="#f7862e"/><rect x="1015.50" y="238.50" width="22.40" height="54.10" fill="#a03aa0"/><rect x="1015.50" y="292.60" width="22.40" height="27.00" fill="#6e7676"/><rect x="1015.50" y="319.60" width="22.40" height="11.90" fill="#ff0864"/><rect x="1015.50" y="331.50" width="22.40" height="123.80" fill="#00b8be"/><rect x="1015.50" y="455.30" width="22.40" height="727.20" fill="#4cd000"/><rect x="1036.90" y="111.00" width="21.00" height="23.70" fill="#ffbc08"/><rect x="1036.90" y="134.70" width="21.00" height="8.70" fill="#006a6a"/><rect x="1036.90" y="143.40" width="21.00" height="81.10" fill="#f7862e"/><rect x="1036.90" y="224.50" width="21.00" height="123.20" fill="#a03aa0"/><rect x="1036.90" y="347.70" width="21.00" height="41.60" fill="#6e7676"/><rect x="1036.90" y="389.30" width="21.00" height="144.90" fill="#ff0864"/><rect x="1036.90" y="534.20" width="21.00" height="8.60" fill="#00b8be"/><rect x="1036.90" y="542.80" width="21.00" height="639.70" fill="#4cd000"/><rect x="1056.90" y="185.50" width="21.00" height="124.40" fill="#a03aa0"/><rect x="1056.90" y="309.90" width="21.00" height="109.70" fill="#6e7676"/><rect x="1056.90" y="419.60" width="21.00" height="143.80" fill="#ff0864"/><rect x="1056.90" y="563.40" width="21.00" height="6.50" fill="#00b8be"/><rect x="1056.90" y="569.90" width="21.00" height="612.60" fill="#4cd000"/><rect x="1076.90" y="206.10" width="19.90" height="8.60" fill="#ffbc08"/><rect x="1076.90" y="214.70" width="19.90" height="41.10" fill="#f7862e"/><rect x="1076.90" y="255.80" width="19.90" height="100.20" fill="#a03aa0"/><rect x="1076.90" y="356.00" width="19.90" height="11.70" fill="#6e7676"/><rect x="1076.90" y="367.70" width="19.90" height="258.90" fill="#ff0864"/><rect x="1076.90" y="626.60" width="19.90" height="29.20" fill="#00b8be"/><rect x="1076.90" y="655.80" width="19.90" height="526.70" fill="#4cd000"/><rect x="1095.80" y="253.60" width="20.50" height="2.20" fill="#ffbc08"/><rect x="1095.80" y="255.80" width="20.50" height="21.60" fill="#006a6a"/><rect x="1095.80" y="277.40" width="20.50" height="35.70" fill="#f7862e"/><rect x="1095.80" y="313.10" width="20.50" height="8.70" fill="#a03aa0"/><rect x="1095.80" y="321.80" width="20.50" height="10.80" fill="#6e7676"/><rect x="1095.80" y="332.60" width="20.50" height="71.90" fill="#ff0864"/><rect x="1095.80" y="404.50" width="20.50" height="320.50" fill="#00b8be"/><rect x="1095.80" y="725.00" width="20.50" height="457.50" fill="#4cd000"/><rect x="1115.30" y="222.30" width="19.90" height="5.40" fill="#ffbc08"/><rect x="1115.30" y="227.70" width="19.90" height="18.40" fill="#f7862e"/><rect x="1115.30" y="246.10" width="19.90" height="76.70" fill="#a03aa0"/><rect x="1115.30" y="322.80" width="19.90" height="36.20" fill="#6e7676"/><rect x="1115.30" y="359.00" width="19.90" height="103.80" fill="#ff0864"/><rect x="1115.30" y="462.80" width="19.90" height="290.30" fill="#00b8be"/><rect x="1115.30" y="753.10" width="19.90" height="429.40" fill="#4cd000"/><rect x="1134.20" y="300.10" width="22.00" height="65.40" fill="#ffbc08"/><rect x="1134.20" y="365.50" width="22.00" height="13.00" fill="#f7862e"/><rect x="1134.20" y="378.50" width="22.00" height="43.30" fill="#a03aa0"/><rect x="1134.20" y="421.80" width="22.00" height="41.00" fill="#6e7676"/><rect x="1134.20" y="462.80" width="22.00" height="42.20" fill="#ff0864"/><rect x="1134.20" y="505.00" width="22.00" height="257.80" fill="#00b8be"/><rect x="1134.20" y="762.80" width="22.00" height="419.70" fill="#4cd000"/><rect x="1155.20" y="280.70" width="20.50" height="3.20" fill="#ffbc08"/><rect x="1155.20" y="283.90" width="20.50" height="17.30" fill="#006a6a"/><rect x="1155.20" y="301.20" width="20.50" height="36.80" fill="#f7862e"/><rect x="1155.20" y="338.00" width="20.50" height="26.50" fill="#a03aa0"/><rect x="1155.20" y="364.50" width="20.50" height="14.00" fill="#6e7676"/><rect x="1155.20" y="378.50" width="20.50" height="103.80" fill="#ff0864"/><rect x="1155.20" y="482.30" width="20.50" height="288.10" fill="#00b8be"/><rect x="1155.20" y="770.40" width="20.50" height="412.10" fill="#4cd000"/><rect x="1174.70" y="314.20" width="19.90" height="14.00" fill="#ffbc08"/><rect x="1174.70" y="328.20" width="19.90" height="57.90" fill="#006a6a"/><rect x="1174.70" y="386.10" width="19.90" height="8.60" fill="#a03aa0"/><rect x="1174.70" y="394.70" width="19.90" height="226.50" fill="#6e7676"/><rect x="1174.70" y="621.20" width="19.90" height="58.40" fill="#ff0864"/><rect x="1174.70" y="679.60" width="19.90" height="90.80" fill="#00b8be"/><rect x="1174.70" y="770.40" width="19.90" height="412.10" fill="#4cd000"/><rect x="1193.60" y="229.90" width="21.70" height="23.70" fill="#ffbc08"/><rect x="1193.60" y="253.60" width="21.70" height="118.40" fill="#006a6a"/><rect x="1193.60" y="372.00" width="21.70" height="30.30" fill="#f7862e"/><rect x="1193.60" y="402.30" width="21.70" height="54.10" fill="#a03aa0"/><rect x="1193.60" y="456.40" width="21.70" height="70.20" fill="#6e7676"/><rect x="1193.60" y="526.60" width="21.70" height="21.60" fill="#ff0864"/><rect x="1193.60" y="548.20" width="21.70" height="234.10" fill="#00b8be"/><rect x="1193.60" y="782.30" width="21.70" height="400.20" fill="#4cd000"/><rect x="1214.30" y="265.50" width="21.10" height="48.70" fill="#ffbc08"/><rect x="1214.30" y="314.20" width="21.10" height="19.40" fill="#006a6a"/><rect x="1214.30" y="333.60" width="21.10" height="47.10" fill="#f7862e"/><rect x="1214.30" y="380.70" width="21.10" height="20.50" fill="#a03aa0"/><rect x="1214.30" y="401.20" width="21.10" height="23.80" fill="#6e7676"/><rect x="1214.30" y="425.00" width="21.10" height="80.00" fill="#ff0864"/><rect x="1214.30" y="505.00" width="21.10" height="314.00" fill="#00b8be"/><rect x="1214.30" y="819.00" width="21.10" height="363.50" fill="#4cd000"/><rect x="1234.40" y="255.80" width="20.00" height="20.60" fill="#ffbc08"/><rect x="1234.40" y="276.40" width="20.00" height="3.20" fill="#006a6a"/><rect x="1234.40" y="279.60" width="20.00" height="127.00" fill="#f7862e"/><rect x="1234.40" y="406.60" width="20.00" height="28.10" fill="#a03aa0"/><rect x="1234.40" y="434.70" width="20.00" height="32.50" fill="#6e7676"/><rect x="1234.40" y="467.20" width="20.00" height="390.80" fill="#00b8be"/><rect x="1234.40" y="858.00" width="20.00" height="324.50" fill="#4cd000"/><rect x="1253.40" y="225.50" width="20.00" height="56.30" fill="#ffbc08"/><rect x="1253.40" y="281.80" width="20.00" height="15.10" fill="#f7862e"/><rect x="1253.40" y="296.90" width="20.00" height="79.50" fill="#a03aa0"/><rect x="1253.40" y="376.40" width="20.00" height="140.50" fill="#6e7676"/><rect x="1253.40" y="516.90" width="20.00" height="188.60" fill="#ff0864"/><rect x="1253.40" y="705.50" width="20.00" height="163.30" fill="#00b8be"/><rect x="1253.40" y="868.80" width="20.00" height="313.70" fill="#4cd000"/><rect x="1272.40" y="252.60" width="21.40" height="61.60" fill="#ffbc08"/><rect x="1272.40" y="314.20" width="21.40" height="1.30" fill="#006a6a"/><rect x="1272.40" y="315.50" width="21.40" height="104.10" fill="#f7862e"/><rect x="1272.40" y="419.60" width="21.40" height="30.30" fill="#a03aa0"/><rect x="1272.40" y="449.90" width="21.40" height="43.20" fill="#6e7676"/><rect x="1272.40" y="493.10" width="21.40" height="58.40" fill="#ff0864"/><rect x="1272.40" y="551.50" width="21.40" height="327.00" fill="#00b8be"/><rect x="1272.40" y="878.50" width="21.40" height="304.00" fill="#4cd000"/><rect x="1292.80" y="234.20" width="21.50" height="7.60" fill="#ffbc08"/><rect x="1292.80" y="241.80" width="21.50" height="214.60" fill="#f7862e"/><rect x="1292.80" y="456.40" width="21.50" height="59.40" fill="#a03aa0"/><rect x="1292.80" y="515.80" width="21.50" height="33.50" fill="#6e7676"/><rect x="1292.80" y="549.30" width="21.50" height="31.40" fill="#ff0864"/><rect x="1292.80" y="580.70" width="21.50" height="328.20" fill="#00b8be"/><rect x="1292.80" y="908.90" width="21.50" height="273.60" fill="#4cd000"/><rect x="1313.30" y="417.40" width="18.40" height="87.60" fill="#ffbc08"/><rect x="1313.30" y="505.00" width="18.40" height="14.00" fill="#f7862e"/><rect x="1313.30" y="519.00" width="18.40" height="69.20" fill="#a03aa0"/><rect x="1313.30" y="588.20" width="18.40" height="24.90" fill="#6e7676"/><rect x="1313.30" y="613.10" width="18.40" height="6.50" fill="#ff0864"/><rect x="1313.30" y="619.60" width="18.40" height="291.80" fill="#00b8be"/><rect x="1313.30" y="911.40" width="18.40" height="271.10" fill="#4cd000"/><rect x="1330.70" y="237.40" width="20.10" height="6.50" fill="#ffbc08"/><rect x="1330.70" y="243.90" width="20.10" height="57.30" fill="#006a6a"/><rect x="1330.70" y="301.20" width="20.10" height="27.00" fill="#f7862e"/><rect x="1330.70" y="328.20" width="20.10" height="42.80" fill="#a03aa0"/><rect x="1330.70" y="371.00" width="20.10" height="128.60" fill="#6e7676"/><rect x="1330.70" y="499.60" width="20.10" height="217.80" fill="#ff0864"/><rect x="1330.70" y="717.40" width="20.10" height="210.30" fill="#00b8be"/><rect x="1330.70" y="927.70" width="20.10" height="254.80" fill="#4cd000"/><rect x="1349.80" y="580.70" width="22.00" height="69.70" fill="#ffbc08"/><rect x="1349.80" y="650.40" width="22.00" height="49.70" fill="#a03aa0"/><rect x="1349.80" y="700.10" width="22.00" height="94.10" fill="#6e7676"/><rect x="1349.80" y="794.20" width="22.00" height="112.20" fill="#ff0864"/><rect x="1349.80" y="906.40" width="22.00" height="31.40" fill="#00b8be"/><rect x="1349.80" y="937.80" width="22.00" height="244.70" fill="#4cd000"/><rect x="1370.80" y="331.50" width="22.20" height="106.50" fill="#ffbc08"/><rect x="1370.80" y="438.00" width="22.20" height="23.80" fill="#006a6a"/><rect x="1370.80" y="461.80" width="22.20" height="23.70" fill="#f7862e"/><rect x="1370.80" y="485.50" width="22.20" height="3.30" fill="#a03aa0"/><rect x="1370.80" y="488.80" width="22.20" height="136.70" fill="#6e7676"/><rect x="1370.80" y="625.50" width="22.20" height="115.70" fill="#ff0864"/><rect x="1370.80" y="741.20" width="22.20" height="243.00" fill="#00b8be"/><rect x="1370.80" y="984.20" width="22.20" height="198.30" fill="#4cd000"/><rect x="1392.00" y="577.40" width="17.60" height="28.10" fill="#ffbc08"/><rect x="1392.00" y="605.50" width="17.60" height="4.40" fill="#f7862e"/><rect x="1392.00" y="609.90" width="17.60" height="53.50" fill="#a03aa0"/><rect x="1392.00" y="663.40" width="17.60" height="50.80" fill="#6e7676"/><rect x="1392.00" y="714.20" width="17.60" height="3.20" fill="#ff0864"/><rect x="1392.00" y="717.40" width="17.60" height="278.10" fill="#00b8be"/><rect x="1392.00" y="995.50" width="17.60" height="187.00" fill="#4cd000"/><rect x="1445.5" y="256.5" width="46" height="44" fill="#4cd000"/><rect x="1445.5" y="340.0" width="46" height="44" fill="#00b8be"/><rect x="1445.5" y="423.5" width="46" height="44" fill="#ff0864"/><rect x="1445.5" y="507.0" width="46" height="44" fill="#6e7676"/><rect x="1445.5" y="590.5" width="46" height="44" fill="#a03aa0"/><rect x="1445.5" y="674.0" width="46" height="44" fill="#f7862e"/><rect x="1445.5" y="757.5" width="46" height="44" fill="#006a6a"/><rect x="1445.5" y="841.0" width="46" height="44" fill="#ffbc08"/><rect x="1445.5" y="924.5" width="46" height="44" fill="#a38224"/></g><rect x="203.9" y="89.5" width="2.6" height="1096.5" fill="#cfcfd1"/><rect x="600.4" y="89.5" width="2.8" height="1096.5" fill="#cfcfd1"/><rect x="203.9" y="1182.5" width="399.3" height="3.5" fill="#dedbe6"/><rect x="206.5" y="89.0" width="393.9" height="2.5" fill="#d6d2c6" fill-opacity="0.8"/><rect x="609.9" y="89.5" width="2.6" height="1096.5" fill="#cfcfd1"/><rect x="1005.0" y="89.5" width="2.8" height="1096.5" fill="#cfcfd1"/><rect x="609.9" y="1182.5" width="397.9" height="3.5" fill="#dedbe6"/><rect x="612.5" y="89.0" width="392.5" height="2.5" fill="#d6d2c6" fill-opacity="0.8"/><rect x="1012.9" y="89.5" width="2.6" height="1096.5" fill="#cfcfd1"/><rect x="1409.6" y="89.5" width="2.8" height="1096.5" fill="#cfcfd1"/><rect x="1012.9" y="1182.5" width="399.5" height="3.5" fill="#dedbe6"/><rect x="1015.5" y="89.0" width="394.1" height="2.5" fill="#d6d2c6" fill-opacity="0.8"/><text transform="translate(402.2,79.4) scale(0.985,1.1)" font-family="'Liberation Sans', sans-serif" font-weight="bold" font-size="53" text-anchor="middle" fill="#000">Day 0</text><text transform="translate(807.7,82.2) scale(0.985,1.1)" font-family="'Liberation Sans', sans-serif" font-weight="bold" font-size="53" text-anchor="middle" fill="#000">Day 8</text><text transform="translate(1219.6,79.2) scale(0.985,1.1)" font-family="'Liberation Sans', sans-serif" font-weight="bold" font-size="53" text-anchor="middle" fill="#000">Day 28</text><rect x="193" y="85.3" width="12" height="3.2" fill="#5a5a5a"/><text transform="translate(184.5,103.3) scale(0.95,1.18)" font-family="'Liberation Sans', sans-serif" font-weight="bold" font-size="53" text-anchor="end" fill="#000">1.00</text><rect x="193" y="358.8" width="12" height="3.2" fill="#5a5a5a"/><text transform="translate(184.5,370.5) scale(0.95,1.04)" font-family="'Liberation Sans', sans-serif" font-weight="bold" font-size="53" text-anchor="end" fill="#000">0.75</text><rect x="193" y="634.4" width="12" height="3.2" fill="#5a5a5a"/><text transform="translate(184.5,645.9) scale(0.95,0.99)" font-family="'Liberation Sans', sans-serif" font-weight="bold" font-size="53" text-anchor="end" fill="#000">0.50</text><rect x="193" y="905.8" width="12" height="3.2" fill="#5a5a5a"/><text transform="translate(184.5,918.1) scale(0.95,1.06)" font-family="'Liberation Sans', sans-serif" font-weight="bold" font-size="53" text-anchor="end" fill="#000">0.25</text><rect x="193" y="1181.5" width="12" height="3.2" fill="#5a5a5a"/><text transform="translate(184.5,1191.1) scale(0.95,0.965)" font-family="'Liberation Sans', sans-serif" font-weight="bold" font-size="53" text-anchor="end" fill="#000">0.00</text><text x="843" y="1235" font-family="'Liberation Sans', sans-serif" font-weight="bold" font-size="52" text-anchor="middle" fill="#000">Sample</text><text transform="translate(76.5,539) rotate(-90)" font-family="'Liberation Sans', sans-serif" font-weight="bold" font-size="52" text-anchor="middle" fill="#000">Relative Abundance</text><text x="1446" y="198" font-family="'Liberation Sans', sans-serif" font-weight="bold" font-size="52" fill="#000">Family</text><text x="1502" y="299.0" font-family="'Liberation Sans', sans-serif" font-weight="bold" font-size="52" fill="#000">f_Lachnospiraceae</text><text x="1502" y="382.5" font-family="'Liberation Sans', sans-serif" font-weight="bold" font-size="52" fill="#000">f_Ruminococcaceae</text><text x="1502" y="466.0" font-family="'Liberation Sans', sans-serif" font-weight="bold" font-size="52" fill="#000">f_Bifidobacteriaceae</text><text x="1502" y="549.5" font-family="'Liberation Sans', sans-serif" font-weight="bold" font-size="52" fill="#000">f_Coriobacteriaceae</text><text x="1502" y="633.0" font-family="'Liberation Sans', sans-serif" font-weight="bold" font-size="52" fill="#000">f_Erysipelotrichaceae</text><text x="1502" y="716.5" font-family="'Liberation Sans', sans-serif" font-weight="bold" font-size="52" fill="#000">f_Bacteroidaceae</text><text x="1502" y="800.0" font-family="'Liberation Sans', sans-serif" font-weight="bold" font-size="52" fill="#000">f_Verrucomicrobiaceae</text><text x="1502" y="883.5" font-family="'Liberation Sans', sans-serif" font-weight="bold" font-size="52" fill="#000">f_Veillonellaceae</text><text x="1502" y="967.0" font-family="'Liberation Sans', sans-serif" font-weight="bold" font-size="52" fill="#000">Others</text></g><rect x="22" y="13.7" width="2062" height="15" fill="#000"/><rect x="13" y="16.6" width="18" height="1266.3" fill="#000"/><rect x="2075" y="16.8" width="15" height="1266.1" fill="#000"/><rect x="13" y="1255.3" width="2077" height="18" fill="#000"/></svg>
</body></html>
